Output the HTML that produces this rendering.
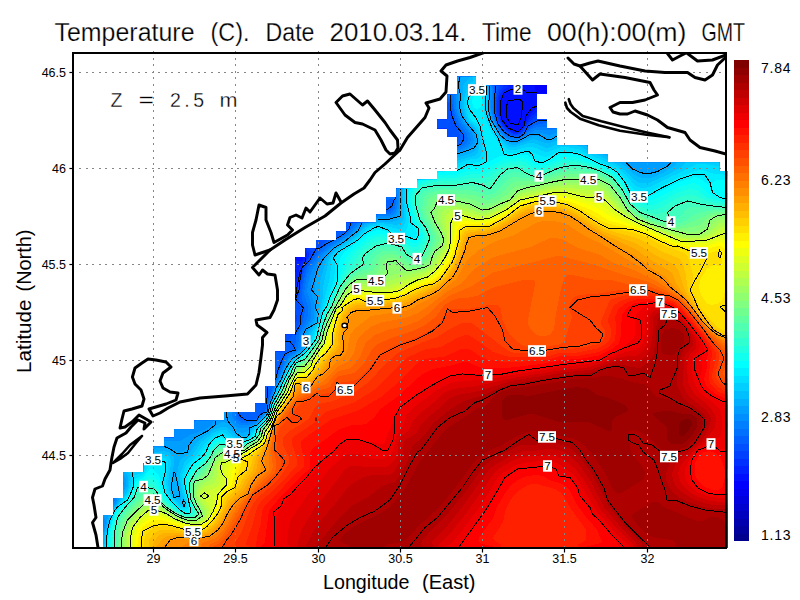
<!DOCTYPE html>
<html><head><meta charset="utf-8"><title>Temperature</title><style>html,body{margin:0;padding:0;background:#fff;width:800px;height:600px;overflow:hidden}</style></head><body>
<svg width="800" height="600" viewBox="0 0 800 600" style="position:absolute;left:0;top:0;font-family:'Liberation Sans',sans-serif">
<defs><clipPath id="m"><path d="M103,547.5 103,515.2 113.2,515.2 113.2,498 123.2,498 123.2,472.2 143.7,472.2 143.7,463.6 153.8,463.6 153.8,446.4 164.2,446.4 164.2,437.8 174.2,437.8 174.2,429.2 194.2,429.2 194.2,420.6 224.2,420.6 224.2,412 255,412 255,403.4 265.3,403.4 265.3,386.2 275.4,386.2 275.4,351.8 285.3,351.8 285.3,334.6 295,334.6 295,257.2 305,257.2 305,248.6 316,248.6 316,240 336.2,240 336.2,231.4 346.3,231.4 346.3,222.8 376.3,222.8 376.3,214.2 386.3,214.2 386.3,197 396.5,197 396.5,188.4 417,188.4 417,179.8 437,179.8 437,171.2 457,171.2 457,136.8 447,136.8 447,128.2 437,128.2 437,119.6 447,119.6 447,94.6 457,94.6 457,76.8 476,76.8 476,85.6 547,85.6 547,93.8 537,93.8 537,119.6 547,119.6 547,128.4 557,128.4 557,145.6 587.5,145.6 587.5,154.2 608,154.2 608,162.6 719.5,162.6 719.5,171.2 727.5,171.2 727.5,547.5Z"/></clipPath><clipPath id="f"><rect x="73" y="53" width="653" height="495"/></clipPath></defs>
<rect width="800" height="600" fill="#fff"/>
<g clip-path="url(#m)" shape-rendering="crispEdges">
<path d="M103,547.5 103,515.2 113.2,515.2 113.2,498 123.2,498 123.2,472.2 143.7,472.2 143.7,463.6 153.8,463.6 153.8,446.4 164.2,446.4 164.2,437.8 174.2,437.8 174.2,429.2 194.2,429.2 194.2,420.6 224.2,420.6 224.2,412 255,412 255,403.4 265.3,403.4 265.3,386.2 275.4,386.2 275.4,351.8 285.3,351.8 285.3,334.6 295,334.6 295,257.2 305,257.2 305,248.6 316,248.6 316,240 336.2,240 336.2,231.4 346.3,231.4 346.3,222.8 376.3,222.8 376.3,214.2 386.3,214.2 386.3,197 396.5,197 396.5,188.4 417,188.4 417,179.8 437,179.8 437,171.2 457,171.2 457,136.8 447,136.8 447,128.2 437,128.2 437,119.6 447,119.6 447,94.6 457,94.6 457,76.8 476,76.8 476,85.6 547,85.6 547,93.8 537,93.8 537,119.6 547,119.6 547,128.4 557,128.4 557,145.6 587.5,145.6 587.5,154.2 608,154.2 608,162.6 719.5,162.6 719.5,171.2 727.5,171.2 727.5,547.5Z" fill="#00008f"/>
<path d="M727.5 548.5l1-1 0-377-8-.5 0-7.5-1-1-110.5 0 0-7.5-.5-1-20 0 0-7.5-.5-1-30 0 0-17-10-.5 0-7.5-.5-1-9.5 0 0-23.5 10-.5 0-10-71 0 0-8-1-1-20 .5 0 17.5-9 0-1 1 0 24-9 0-1 1 0 9.5 10 .5 0 7.5 .5 1 9.5 0 0 32-19.5 0-.5 1 0 7.5-20 .5 0 8-20 .5-.5 8.5-10 .5-.5 16.5-9.5 .5-.5 8-29 0-1 1 0 7.5-10 .5 0 8.5-19.5 0-.5 1 0 7.5-10.5 0-.5 1 0 7.5-10 .5 0 77-10 .5 0 16.5-8.5 0-1 1-.5 33.5-10 .5 0 16.5-10 .5 0 8.5-30 0-1 1 0 7.5-29 0-1 1 0 7.5-19.5 0-.5 8.5-10 .5 0 8-10 .5-.5 17-9.5 0-.5 8.5-20 .5-.5 25.5-9.5 0-.5 17-9 0-1 1 0 32.5 1 1z" fill="#00009f"/>
<path d="M727.5 548.5l1-1 0-377-8-.5 0-7.5-1-1-110.5 0 0-7.5-.5-1-20 0 0-7.5-.5-1-30 0 0-17-10-.5 0-7.5-.5-1-9.5 0 0-23.5 10-.5 0-10-71 0 0-8-1-1-20 .5 0 17.5-9 0-1 1 0 24-9 0-1 1 0 9.5 10 .5 0 7.5 .5 1 9.5 0 0 32-19.5 0-.5 1 0 7.5-20 .5 0 8-20 .5-.5 8.5-10 .5-.5 16.5-9.5 .5-.5 8-29 0-1 1 0 7.5-10 .5 0 8.5-19.5 0-.5 1 0 7.5-10.5 0-.5 1 0 7.5-10 .5 0 77-10 .5 0 16.5-8.5 0-1 1-.5 33.5-10 .5 0 16.5-10 .5 0 8.5-30 0-1 1 0 7.5-29 0-1 1 0 7.5-19.5 0-.5 8.5-10 .5 0 8-10 .5-.5 17-9.5 0-.5 8.5-20 .5-.5 25.5-9.5 0-.5 17-9 0-1 1 0 32.5 1 1z" fill="#0000af"/>
<path d="M727.5 548.5l1-1 0-377-8-.5 0-7.5-1-1-110.5 0 0-7.5-.5-1-20 0 0-7.5-.5-1-30 0 0-17-10-.5 0-7.5-.5-1-9.5 0 0-23.5 10-.5 0-10-71 0 0-8-1-1-20 .5 0 17.5-9 0-1 1 0 24-9 0-1 1 0 9.5 10 .5 0 7.5 .5 1 9.5 0 0 32-19.5 0-.5 1 0 7.5-20 .5 0 8-20 .5-.5 8.5-10 .5-.5 16.5-9.5 .5-.5 8-29 0-1 1 0 7.5-10 .5 0 8.5-19.5 0-.5 1 0 7.5-10.5 0-.5 1 0 7.5-10 .5 0 77-10 .5 0 16.5-8.5 0-1 1-.5 33.5-10 .5 0 16.5-10 .5 0 8.5-30 0-1 1 0 7.5-29 0-1 1 0 7.5-19.5 0-.5 8.5-10 .5 0 8-10 .5-.5 17-9.5 0-.5 8.5-20 .5-.5 25.5-9.5 0-.5 17-9 0-1 1 0 32.5 1 1z" fill="#0000bf"/>
<path d="M727.5 548.5l1-1 0-377-8-.5 0-7.5-1-1-110.5 0 0-7.5-.5-1-20 0 0-7.5-.5-1-30 0 0-17-10-.5 0-7.5-.5-1-9.5 0 0-23.5 10-.5 0-10-71 0 0-8-1-1-20 .5 0 17.5-9 0-1 1 0 24-9 0-1 1 0 9.5 10 .5 0 7.5 .5 1 9.5 0 0 32-19.5 0-.5 1 0 7.5-20 .5 0 8-20 .5-.5 8.5-10 .5-.5 16.5-9.5 .5-.5 8-29 0-1 1 0 7.5-10 .5 0 8.5-19.5 0-.5 1 0 7.5-10.5 0-.5 1 0 7.5-10 .5 0 77-10 .5 0 16.5-8.5 0-1 1-.5 33.5-10 .5 0 16.5-10 .5 0 8.5-30 0-1 1 0 7.5-29 0-1 1 0 7.5-19.5 0-.5 8.5-10 .5 0 8-10 .5-.5 17-9.5 0-.5 8.5-20 .5-.5 25.5-9.5 0-.5 17-9 0-1 1 0 32.5 1 1z" fill="#0000cf"/>
<path d="M727.5 548.5l1-1 0-377-8-.5 0-7.5-1-1-110.5 0 0-7.5-.5-1-20 0 0-7.5-.5-1-30 0 0-17-10-.5 0-7.5-.5-1-9.5 0 0-23.5 10-.5 0-10-71 0 0-8-1-1-20 .5 0 17.5-9 0-1 1 0 24-9 0-1 1 0 9.5 10 .5 0 7.5 .5 1 9.5 0 0 32-19.5 0-.5 1 0 7.5-20 .5 0 8-20 .5-.5 8.5-10 .5-.5 16.5-9.5 .5-.5 8-29 0-1 1 0 7.5-10 .5 0 8.5-19.5 0-.5 1 0 7.5-10.5 0-.5 1 0 7.5-10 .5 0 77-10 .5 0 16.5-8.5 0-1 1-.5 33.5-10 .5 0 16.5-10 .5 0 8.5-30 0-1 1 0 7.5-29 0-1 1 0 7.5-19.5 0-.5 8.5-10 .5 0 8-10 .5-.5 17-9.5 0-.5 8.5-20 .5-.5 25.5-9.5 0-.5 17-9 0-1 1 0 32.5 1 1z" fill="#0000df"/>
<path d="M727.5 548.5l1-1 0-377-8-.5 0-7.5-1-1-110.5 0 0-7.5-.5-1-20 0 0-7.5-.5-1-30 0 0-17-10-.5 0-7.5-.5-1-9.5 0 0-23.5 10-.5 0-10-71 0 0-8-1-1-20 .5 0 17.5-9 0-1 1 0 24-9 0-1 1 0 9.5 10 .5 0 7.5 .5 1 9.5 0 0 32-19.5 0-.5 1 0 7.5-20 .5 0 8-20 .5-.5 8.5-10 .5-.5 16.5-9.5 .5-.5 8-29 0-1 1 0 7.5-10 .5 0 8.5-19.5 0-.5 1 0 7.5-10.5 0-.5 1 0 7.5-10 .5 0 77-10 .5 0 16.5-8.5 0-1 1-.5 33.5-10 .5 0 16.5-10 .5 0 8.5-30 0-1 1 0 7.5-29 0-1 1 0 7.5-19.5 0-.5 8.5-10 .5 0 8-10 .5-.5 17-9.5 0-.5 8.5-20 .5-.5 25.5-9.5 0-.5 17-9 0-1 1 0 32.5 1 1z" fill="#0000ef"/>
<path d="M727.5 548.5l1-1 0-377-8-.5 0-7.5-1-1-110.5 0 0-7.5-.5-1-20 0 0-7.5-.5-1-30 0 0-17-10-.5 0-7.5-.5-1-9.5 0 0-23.5 10-.5 0-10-71 0 0-8-1-1-20 .5 0 17.5-9 0-1 1 0 24-9 0-1 1 0 9.5 10 .5 0 7.5 .5 1 9.5 0 0 32-19.5 0-.5 1 0 7.5-20 .5 0 8-20 .5-.5 8.5-10 .5-.5 16.5-9.5 .5-.5 8-29 0-1 1 0 7.5-10 .5 0 8.5-19.5 0-.5 1 0 7.5-10.5 0-.5 1 0 7.5-10 .5 0 77-10 .5 0 16.5-8.5 0-1 1-.5 33.5-10 .5 0 16.5-10 .5 0 8.5-30 0-1 1 0 7.5-29 0-1 1 0 7.5-19.5 0-.5 8.5-10 .5 0 8-10 .5-.5 17-9.5 0-.5 8.5-20 .5-.5 25.5-9.5 0-.5 17-9 0-1 1 0 32.5 1 1z" fill="#0000ff"/>
<path d="M548 93l-9.5 0-2.5-2-1-2 0-4.5-58 0 0-8-.5-1-20.5 .5 0 17.5-9 0-1 1 0 24-9 0-1 1 0 9.5 10 .5 0 7.5 .5 1 9.5 0 0 32-19.5 0-.5 1 0 7.5-20 .5 0 8-20 .5-.5 8.5-10 .5-.5 16.5-9.5 .5-.5 8-29 0-1 1 0 7.5-10 .5 0 8.5-19.5 0-.5 1 0 7.5-10.5 0-.5 1 0 7.5-10 .5 0 77-10 .5 0 16.5-8.5 0-1 1-.5 33.5-10 .5 0 16.5-10 .5 0 8.5-30 0-1 1 0 7.5-29 0-1 1 0 7.5-19.5 0-.5 8.5-10 .5 0 8-10 .5-.5 17-9.5 0-.5 8.5-20 .5-.5 25.5-9.5 0-.5 17-9 0-1 1 0 33.5 626.5 0 0-378-1-.5-7 0 0-7.5-1-1-110.5 0 0-7.5-.5-1-20 0 0-7.5-.5-1-30 0 0-17-10-.5 0-7.5-.5-1-9.5 0 0-23.5 9.5 0z" fill="#0010ff"/>
<path d="M304 255l-1 4-2 2-2 .5-5-2 0 7 1.5 2.5 .5 2-2 6 0 56.5-10 .5 0 16.5-8.5 0-1 1-.5 33.5-10 .5 0 16.5-10 .5 0 8.5-30 0-1 1 0 7.5-29 0-1 1 0 7.5-19.5 0-.5 8.5-10 .5 0 8-10 .5-.5 17-9.5 0-.5 8.5-20 .5-.5 25.5-9.5 0-.5 17-9 0-1 1 .5 33.5 626-.5 0-377-1-1-7 0-.5-8.5-111 0 0-7.5-.5-1-20 0 0-7.5-.5-1-30 0 0-16.5-10-1-.5-8.5-9.5 0 0-12.5-7 7-6.5 12-3.5 4.5-4 2-4-.5-6-3.5-5-6.5-2-8-.5-8 1.5-7.5 2.5-4.5 3.5-2.5 9-3.5 1-2-40-.5 0-8-.5-1-19.5 0-1 1 0 17-9 0-1 1 0 24-9 0-1 1 0 9.5 10 .5 0 7.5 .5 1 9.5 0 0 32-19.5 0-.5 1 0 7.5-20 .5 0 8-20 .5-.5 8.5-10 .5-.5 16.5-9.5 .5-.5 8-29 0-1 1 0 7.5-10 .5 0 8.5-19.5 0-.5 8.5-10.5 0z" fill="#0020ff"/>
<path d="M304 249l2.5 4 0 4-7 10-4 22-1.5 5.5 0 39-10 .5 0 16.5-8.5 0-1 1-.5 33.5-10 .5 0 16.5-10 .5 0 8.5-30 0-1 1 0 7.5-29 0-1 1 0 7.5-19.5 0-.5 8.5-10 .5 0 8-10 .5-.5 17-9.5 0-.5 8.5-20 .5-.5 25.5-9.5 0-.5 17-9 0-1 1 .5 33.5 626-.5 0-377-1-1-7 0-.5-8.5-111 0 0-7.5-.5-1-20 0 0-7.5-.5-1-30 0 0-16.5-10-1 0-8-10-.5 0-7.5-7 5.5-10 14.5-4 1.5-4 0-6-3.5-4-4.5-3-5.5-1.5-8 0-10 1.5-6 3-4.5 5-3.5 .5-2.5-31.5 0 0-8-.5-1-19.5 0-1 1 0 17-9 0-1 1 0 24-9 0-1 1 0 9.5 10 .5 0 7.5 .5 1 9.5 0 0 32-19.5 0-.5 1 0 7.5-20 .5 0 8-20 .5-.5 8.5-10 .5-.5 16.5-9.5 .5-.5 8-29 0-1 1 0 7.5-10 .5 0 8.5-19.5 0-.5 1 0 7.5-10 0z" fill="#0030ff"/>
<path d="M305.5 247.5l3.5 5.5-.5 4-6.5 10-5 24.5-3 6.5 0 35.5-10 .5 0 16.5-8.5 0-1 1-.5 33.5-10 .5 0 16.5-10 .5 0 8.5-30 0-1 1 0 7.5-29 0-1 1 0 7.5-19.5 0-.5 8.5-10 .5 0 8-10 .5-.5 17-9.5 0-.5 8.5-20 .5-.5 25.5-9.5 0-.5 17-9 0-1 1 .5 33.5 626-.5 0-377-1-1-7 0-.5-8.5-111 0 0-7.5-.5-1-20 0 0-7.5-.5-1-30 0 0-17-10-.5 0-8-10-.5 0-4-7 5.5-10 12.5-4 1.5-4-.5-6-3-4-4-3-5.5-2.5-8-.5-10 1.5-8 1.5-4 4.5-6.5-27.5 0 0-8-.5-1-19.5 0-1 1 0 17-9 0-1 1 0 24-9 0-1 1 0 9.5 10 .5 0 7.5 .5 1 9.5 0 0 32-19.5 0-.5 1 0 7.5-20 .5 0 8-20 .5-.5 8.5-10 .5-.5 16.5-9.5 .5-.5 8-29 0-1 1 0 7.5-10 .5 0 8.5-19.5 0-.5 1 0 7.5z" fill="#0040ff"/>
<path d="M308 247.5l4 3.5-1 4-8 14-5 26-4 8 0 2.5 3 11.5-.5 4-2.5 4 0 8.5-10 .5 0 16.5-8.5 0-1 1-.5 33.5-10 .5 0 16.5-10 .5 0 8.5-30 0-1 1 0 7.5-29 0-1 1 0 7.5-19.5 0-.5 8.5-10 .5 0 8-10 .5-.5 17-9.5 0-.5 8.5-20 .5-.5 25.5-9.5 0-.5 17-9 0-1 1 .5 33.5 626-.5 0-377-1-1-7 0-.5-8.5-111 0 0-7.5-.5-1-20 0 0-7.5-.5-1-30 0 0-16.5-1-1-9 0 0-7.5-1-1-10 0-6 4-10 11-4 1.5-4 0-6-3-4-4-4-6-2.5-7-.5-8 .5-10 2-8 2.5-4.5-24 0 0-8-.5-1-19.5 0-1 1 0 17-9 0-1 1 0 24-9 0-1 1 0 9.5 10 .5 0 7.5 .5 1 9.5 0 0 32-19.5 0-.5 1 0 7.5-20 .5 0 8-20 .5-.5 8.5-10 .5-.5 16.5-9.5 .5-.5 8-29 0-1 1 0 7.5-10 .5 0 8.5-19.5 0-.5 1 0 7.5z" fill="#0050ff"/>
<path d="M335.5 231l-.5 8-6.5 0-7.5 6-6 7-10 17-2 6-4.5 26 2.5 10-1 10-6 12.5-5 6.5-2 1.5-3 .5 0 8.5-8.5 0-1 1-.5 33.5-10 .5 0 16.5-10 .5 0 8.5-30 0-1 1 0 7.5-29 0-1 1 0 7.5-19.5 0-.5 8.5-10 .5 0 8-10 .5-.5 17-9.5 0-.5 8.5-20 .5-.5 25.5-9.5 0-.5 17-9 0-1 1 0 33.5 626.5 0 0-377.5-1-1-7 0 0-8.5-111.5 0 0-7.5-.5-1-20 0 0-7.5-.5-1-30 0 0-16.5-1-1-9 0 0-7.5-1-1-10 3-4 2-12 11.5-4 1.5-6-1-4-2-4-3.5-4.5-7-2.5-6-1.5-14 3-18.5-20.5 0 0-8-.5-1-19.5 0-1 1 0 17-9 0-1 1 0 8 3-.5 .5 1 5 18 5.5 14-1 5.5-3 2 0 27.5-19.5 0-.5 1 0 7.5-20 .5 0 8-20 .5-.5 8.5-10 .5-.5 16.5-9.5 .5-.5 8-29 0-1 1 0 7.5-9 0z" fill="#0060ff"/>
<path d="M446 99l3-1.5 2.5 1.5 4 20 9.5 18-1 4-1.5 2-3.5 2.5-3 .5 0 24-19.5 0-.5 1 0 7.5-20 .5 0 8-20 .5-.5 8.5-9.5 0-1 1 0 3.5 6-1.5 2 .5 1 1.5-1 6-2.5 4-1.5 1-4 .5 0 .5-9.5 0-.5 8.5-20.5 0-10 11.5-17.5 11.5-8 6.5-11 16-3 7-3.5 21 .5 4 2.5 8 0 6-1.5 8-6.5 14-1.5 12-2 3-6 4-3.5 5-10.5 28-8 23.5-8 7.5-8 3-4 0-5-2-3-4 .5-4-14 0-.5 8.5-29.5 0-.5 1 0 7.5-19.5 0-.5 1 0 7.5-10 .5 0 8-10 .5-.5 17-9.5 0-.5 8.5-20 .5-.5 25.5-9.5 0-.5 17-9 0-1 1 0 33.5 626.5 0 0-378-8-.5 0-7.5-1-1-110.5 0 0-7.5-.5-1-20 0 0-7.5-.5-1-30 0 0-16.5-1-1-9 0 0-4.5-13 2.5-4 2.5-8 7.5-4 2-4 .5-4-.5-4-2-4.5-4-5-8-2.5-6-1.5-12 1-20.5-17.5 0 0-8-.5-1-20.5 .5 0 17.5-9.5 0z" fill="#0070ff"/>
<path d="M452.5 93.5l1.5 3.5 .5 12 2.5 8 2.5 6 7 10 1.5 6-1 3.5-2.5 2.5-3.5 2-5 1 0 22-19.5 0-.5 1 0 7.5-20 .5 0 8-20 .5-.5 8.5-2.5 0 2 1 1 2 0 4-1.5 6-3 4-2.5 1.5-8-.5-6 1 0 6.5-16.5 0-13 13.5-16.5 11-10 8.5-9.5 14.5-2.5 6.5-3 17.5 4 14 0 8-1 4-7.5 14-1.5 14-2.5 4-6.5 4.5-4 5.5-11 26-7 21.5-2 3.5-10 9-10 2-4-.5-4.5-3.5-2-4 0-4-10.5 0-1 1 0 7.5-29 0-1 1 0 7.5-19.5 .5-.5 8-10 .5 0 8-10 .5-.5 17-9.5 0-.5 8.5-19.5 0-1 .5 0 25.5-8.5 0-1.5 4.5 0 12.5-9 0-1 1 0 7.5 1 2.5-1 4.5 0 19 626.5 0 0-378-8-.5 0-7.5-1-1-110.5 0 0-7.5-.5-1-20 0 0-7.5-.5-1-30 0 0-16-1-1.5-20 0-6 2.5-10 8-4 1-6-.5-4-1.5-4-3.5-4.5-6-4-8-2-10 .5-18-1-6.5-15 0 0-8-1-1-19 0-1 1 0 17z" fill="#0080ff"/>
<path d="M456 76.5l0 30.5 2 8 4 8 7.5 10 1.5 6-1 4-4 4-5 2.5-5 1 0 19.5-19.5 0-.5 1 0 7.5-19 0-1 1 0 7.5-18 0-2.5 4 2.5 8-.5 6-1.5 6-3 3.5-4 1.5-8 0-6 1 0 4.5-14 .5-12.5 13-18 12-9 8-9 14-3.5 10.5-2 11.5 3.5 12 1 12-1 4-9 14-1 14-2.5 4-9 6.5-3.5 5.5-10.5 24-7.5 22-2.5 4.5-10 9-6 2.5-6 .5-4-1-4.5-3.5-3-6 .5-4-8 0-1 1 0 7.5-26 0-4 4 0 4.5-6.5 0-5.5 1.5-3-1.5-4.5 .5-.5 8-10 .5 0 8-10 .5-.5 17-9.5 0-.5 8.5-19.5 0-1 .5 0 25.5-5.5 0-4.5 8 0 9-9 0-1 1 0 4 2 2 .5 2-2.5 10 0 15.5 626.5 0 0-378-8-.5 0-7.5-1-1-110.5 0 0-7.5-.5-1-20 0 0-7.5-.5-1-30 0 0-16.5-9 2.5-10-1-4 .5-14 8.5-4 1.5-6-.5-4-1.5-5.5-5-4.5-6.5-3.5-7.5-2.5-10 1-18-1.5-6.5-13.5 0 0-8-.5-1-19.5 0z" fill="#008fff"/>
<path d="M456 86l2.5 9-.5 12 2 8 4 8 8 10 2 6-1 4-3 4-7 3.5-7 2 0 17.5-19.5 0-.5 1 0 7.5-19 0-1 1 0 7.5-16 0-1.5 4 1 8-.5 8-1 4-2 4-5 2.5-16 1 0 3-10 0-2 1-3 2.5-9.5 10-17.5 12-8.5 8-8.5 14-5 16-.5 6 3 10 .5 14-.5 4-9 12-1 4-.5 10-1.5 4-12 10-4 6-10 22-8.5 24-2 3.5-10 9.5-8 3.5-6 1-4-1.5-6.5-6-2-4-.5-6-4 0-1 1 0 7.5-8.5 0-3 5.5-6.5 4.5-14 5-10 6-6 1-12-.5 0 4-10 .5-.5 17-9.5 0-.5 8.5-19.5 0-1 .5 0 7 2 4.5-2 6.5 0 7.5-4 0-2.5 6-3.5 4 0 7-9 0-1 1 1 2 2 1 1 3-1 6-3 10 0 11.5 626.5 0 0-378-8-.5 0-7.5-1-1-110.5 0 0-7.5-.5-1-20 0 0-7.5-.5-1-30 0 0-12-9 2.5-10-2.5-4 .5-16 7.5-8 .5-6-3-4-4-4.5-7-4-8-2.5-12 .5-18-2-4.5-11.5 0 0-8-.5-1-19.5 0-1 1.5z" fill="#009fff"/>
<path d="M463 75.5l-2 2-1.5 3.5 1 14-.5 12 4.5 14 8.5 10 2 4 1 6-2 6-5.5 4-12.5 4 0 15-19.5 0-.5 1 0 7.5-19.5 0-.5 1 0 7.5-14.5 0-1.5 4 1 10-.5 10-1.5 4-2 2.5-6 2-14 .5-2 0 0 1.5-5 0-5 2-4 3-8 8.5-20 14-7.5 8-6.5 12-4 14-.5 6 2 10-.5 16-1 5.5-8.5 12.5-1.5 10.5-2 5.5-4 4-8 6.5-5 7.5-10 22-9 23.5-8 9.5-12 9.5-4 1.5-6-1.5-10-8.5-4-1-2 .5-26 16-8 9.5-3.5 3-4.5 1-12-4.5-8 0-6.5 2.5 0 12.5-10 .5 0 8-20 .5-.5 2 3 3 1 2.5-.5 8-3.5 6 0 4-2 0-3 6-5 6 0 5-3 0-1 1-1 8-4 14 0 6-1 2.5 0 3 626.5 0 0-378-8-.5 0-7.5-1-1-50.5 0-1.5 3.5-8.5 6-8 2.5-6 .5-8-3-13-9.5-15 0 0-7-3-1.5-17.5 0 0-7.5-.5-1-30 0 0-8-11 2.5-10-3-4 0-14 6.5-6 .5-4-1-4-2.5-4.5-4.5-5-8-4-8-2.5-10 .5-18-1-4-2-2.5-9.5 0 0-8-.5-1z" fill="#00afff"/>
<path d="M470 75.5l-1 3.5-4 3-1.5 3-2 20 4.5 16 8 8 3 6 1 8-1 4.5-2 3.5-3.5 2-15.5 5 0 12-19.5 0-.5 1 0 7.5-19.5 0-.5 1 0 7.5-12.5 0-1.5 4 0 22-1 4-2 3-6 1.5-16 0-11.5 3.5-10.5 10.5-19.5 13.5-6 6-3.5 6-6.5 22 .5 14-3.5 24-7.5 12-2 10-3 6-3.5 4-9.5 8-5 8-9.5 20-9.5 24.5-6 7.5-9 8-3 4.5-4 2.5-4 .5-4-1-10-8-6-.5-6 2-17 12-8.5 12-8.5 6-2 4-2 12 4.5 24-.5 2-6-4.5-4-7.5 0-8 3.5-20-.5-4-5-4.5-6-2-10.5 2.5 0 9.5-9.5 0-.5 8.5-19.5 0 4 4 1 2-.5 10-9.5 16-6 7.5 0 3.5-1.5 0-.5 1-5.5 20-.5 8-2 4 0 1.5 626.5 0 0-378-8-.5 0-7.5-1-1-42.5 0-1.5 3.5-12.5 8-12 5-8 .5-8-3.5-10-9-6-3.5-2-1-8 0 0-4-9.5-4.5-11 0 0-5.5-6-3-24.5 0 0-4-11 3-14-4.5-16 5.5-4 .5-4-1-4-2.5-6-6.5-8.5-16-2.5-10 .5-18-1.5-4-2.5-2.5-7.5 0-.5-9z" fill="#00bfff"/>
<path d="M472 75.5l2 5.5-5 2.5-2 3-2.5 10.5-1 8 4 16 7.5 6.5 4 7.5 1 8-2 10-3 2.5-19 5.5 0 9-19.5 0-.5 8.5-19.5 .5-.5 8-11 0-1 2-1 4 1 22-.5 4-2.5 4-4 2-18-2-10 2.5-4 2-10 10-18 12-5.5 5.5-3 6-5 24-.5 12-6 26-5.5 10-6 16-3.5 4-9 7-5 7-10.5 22-10.5 25.5-13 14.5-4.5 6-2.5 2-6 1.5-4-.5-4-2-6-5.5-6-1-8 3.5-12.5 10-8 12-7.5 6-4.5 12-.5 8 2.5 12 2.5 8-.5 4-1.5 1-2-1-6-5.5-4-4.5-1.5-4-1.5-8 3.5-22-2-4-2.5-2-6-1.5-8.5 2 0 7-7 0-3 6.5 0 2-3.5 1-2-1-11 0 4 4-1 12-2.5 6-14.5 19.5-6.5 22.5-.5 8.5-3 5 626.5 0 0-378-8-.5 0-7.5-1-1-33.5 0-2 3.5-2.5 2-14.5 8-18 8-6 .5-4-1-4-2.5-16-14.5-8-4-2 0 0-1-15.5-7.5-5 0 0-2.5-11.5-5-6.5-1-12.5-.5-9 3.5-4 0-10-4-4-1-16 4.5-6-.5-4-3-6-6.5-9-16-3-12 .5-16-1-4-5-4.5-4.5 0 0-8.5z" fill="#00cfff"/>
<path d="M471 87l-4.5 10-1 8 3.5 15.5 8.5 6.5 3 8 1.5 6 0 10-1 4-1.5 2-2.5 1.5-10 1.5-11 4.5 0 5.5-19.5 0-.5 8.5-19.5 .5-.5 8-9.5 0-1.5 4 1 28-1 4.5-2.5 3.5-3.5 2-18-4-10 1.5-4.5 2.5-9.5 9-21.5 15-4 6-1.5 18-11 43.5-8.5 20.5-5.5 10-12 10-3 4-15 31-6.5 17-3.5 5.5-9.5 10.5-4 6-6 4-6.5 1.5-4-1-10-6.5-4-1-8 3.5-8 7.5-8.5 12-9.5 9-5 11 .5 10 4 18-.5 4-1 1-4-1-8-7-5.5-9-1.5-8 2.5-20-1.5-4-6-2.5-8.5 1.5 0 4.5-4.5 0-4.5 8.5-2.5 3-8 1-2.5 12-2.5 6-13 16.5-3 5.5-5.5 20-1 10-2 3.5 625 0 0-376.5-2-2-6 0 0-3.5-17.5-2.5-6 0-46 22.5-6 1.5-4 0-6-2.5-13-14.5-5-4-38-17.5-10-2-8-.5-12 4.5-4 .5-12-5-4-.5-14 3.5-6-.5-4-2.5-7.5-10-9-16-3-10 .5-16-1-6-2.5-2-5.5-2-4 .5z" fill="#00dfff"/>
<path d="M474.5 89l-5.5 8.5-1 5.5 2 8 0 8 2 2 7 3.5 3.5 6.5 2 8 1 12 0 4-2 4-4.5 3-12 1.5-11 4.5 0 2-20 .5 0 8-17 0-3 2.5 0 6-7.5 0-2 4 0 10 2.5 20-1.5 6-2.5 4.5-2 1-4 1-16-6-4-.5-6 1-6 3.5-10 8.5-18 13-4 6 0 12-1.5 10-20.5 58-7 12-11.5 10-5 6-15.5 32-6 16-11.5 14-3.5 6-6 4.5-10 2.5-4-1-10-6-4 0-6 3-5 5-8 12-10.5 10-5 10-1 4 0 6 4.5 20-.5 4-2.5 1-4-1-4.5-4-6.5-6-3.5-6-2.5-10 1-16-.5-4-1.5-2-4-1-5.5 1-1 1.5-1.5 0-8 12.5-8.5 4-6 16-14.5 18-6 20-1 10-1.5 5.5 623 0 0-372-7.5-2.5-8-.5-10-3.5-6 .5-18 6.5-30 15-8 1-4-1-4-3-11-14-6.5-6-36.5-16.5-10-2-6 0-4 .5-10 5-4 1-4-1-12-5.5-16 2.5-6-.5-6-5.5-9-14-6-12-2.5-10 1-14-1.5-7-2-1.5-4-.5z" fill="#00efff"/>
<path d="M475 95l-2.5 4-.5 4 1.5 4 3.5 2 2-1 2-2 1.5-7-1.5-4.5-2-1zM523 154.5l-12 1.5-10-.5-22 11-10 .5-12 4-12 .5-9 1.5 0 5.5-14 0-6 4.5 0 4-5.5 0-2.5 6 0 10 4 20 5 10-1 4-3 1-6-1-8 0-14-6-8-1-8 3-25.5 20-3.5 6-4 22-12.5 30-10 30-8 12-10.5 8.5-4 5-17 34.5-5.5 14-11 14-4.5 7.5-6 4-8 2.5-6 0-12-5.5-4 .5-6 5-8 12-12 12-5.5 10-.5 4 0 6 4.5 20-.5 2.5-2 2-4-.5-4-2-9-8-5-8-6-17.5-6-6-2-.5-2 1-6 7.5-7 3.5-7 15.5-14 16.5-6 20-2 15.5 621.5 0 0-350.5-2-1-1.5-2 1.5-2 2-1 0-13-5.5 1.5-6-.5-2.5 1-3.5 3.5-2 .5-10-7-4-1-4 1-12 4-28 14-4 1-6 0-6-2-4-3.5-8.5-12.5-7.5-8-6-3.5-28-11.5-10-2-8-.5-6 2-10 5-6 1.5-4.5-1-9.5-6z" fill="#00ffff"/>
<path d="M561 157.5l-14 6.5-6 1.5-6-.5-8-5.5-4-1.5-20 1.5-22 11-12 0-12 4-12 0-9 1.5 0 2.5-9.5 0-10.5 6.5 0 2-2.5 0-4 6 0 8 4.5 20 5 8 1.5 4 0 4-1.5 3.5-2 2-4 .5-6-2.5-12-1.5-10-5-8-.5-8 3.5-20 16-4 6-6 20-15 34-9 27-8.5 13-11.5 9.5-3.5 4.5-17 34-5.5 14-15.5 22-6.5 4.5-8 3-6 0-12-5-4 1-5.5 4.5-7.5 12-12 12-5.5 10 0 10 4.5 20-2 3.5-4 .5-4-1.5-11-8.5-6-8-6-14-5-5.5-2-1-2 0-4.5 4.5-7.5 4-7 14-12.5 14-2.5 4.5-4.5 15.5-2 17.5 620 0 0-347-15.5-5-4-2.5-10-9-6-2-12 3-28 14-6 1-6-.5-4-1.5-6-4.5-12.5-17.5-7.5-6.5-20-8.5-12-4-10-1.5z" fill="#10ffef"/>
<path d="M728.5 203.5l-18-4.5-4.5-2-9-7-6-1-6 1-6 2-24 12.5-6 1-6-1-6-2.5-6-5-13-18-6.5-6-20.5-9-18-4.5-12 1-16 7-6 1-6-1-8-5-4-1.5-14 1.5-8 2.5-10 6.5-6 2.5-14 .5-14 3.5-16 0-10 2.5-6 2-6.5 4.5-3.5 4-2 6 1.5 10 3 12 5.5 9 2 5 0 5-2 5-4 3.5-4 .5-8-4-10-2-10-4-6-.5-8 3-16.5 13.5-5.5 8-24 52-9.5 28-8.5 12.5-11.5 9.5-3.5 4-17 34-6 14.5-9.5 13.5-4.5 7.5-6 4.5-12 5-6-.5-8-4-6 1-5 4.5-7 11-9.5 9-4.5 6-3 6-1 6 1.5 10 3.5 14-1 4-4 1-4-.5-10-6.5-8.5-8-9.5-16.5-4-3.5-2 0-10 5-2 1.5-7 13.5-13 15-2 5-3 10-2 19.5 618 0 .5-1z" fill="#20ffdf"/>
<path d="M728.5 205.5l-21.5-4.5-12-5.5-6-1-6 1.5-8 3-12 7.5-6 2.5-6 1-6-1.5-6-2.5-6-4-15-21-7-6.5-20-8.5-16-4-14 1.5-16 6.5-6 1.5-8-1-8-5-4-1-10 .5-8 3-10 7.5-6 2.5-4 .5-10-.5-16 3-16 0-10 2-6 2-7 6-2.5 4 0 4 3 18 7 12 2 6-.5 6-4 7-4 2.5-4 .5-10-6-16-4.5-6-.5-8.5 3-12.5 10-13 19-9.5 17-12 26-9 26-9.5 14-10.5 8-3.5 4-18 35-6 14.5-9 12.5-4.5 8-8.5 6-10 4-6 0-8-3.5-4 0-2 1-4 4-8 12-9 8.5-4.5 6-2.5 6-1 6 1.5 10 4 12-.5 4.5-3 1.5-4.5 0-9-4-12-10-7.5-12-6-5.5-4 0-6 2-4 3.5-5.5 10-10.5 12-4 5.5-4 14.5-1.5 17.5 616.5 0 .5-1z" fill="#30ffcf"/>
<path d="M728.5 207l-23.5-3-16-4-9.5 3-16.5 10-6 1-8-1-8-3-8-5.5-15.5-21.5-6.5-6.5-8-4.5-10-3.5-18-4-14 2-16 6-8 2-7.5-1.5-10.5-5-8 0-7.5 3-10.5 9-6 2.5-6 .5-10-1-18 2.5-14-.5-10 2-6 2-6 6-1.5 7 3.5 16 7 12 2 6-.5 6-4.5 9-4 3.5-6 1.5-4-1.5-8-6.5-16-4-8.5 2-9 6-5 6-5 8-8.5 8.5-6 8.5-17 33-9 26.5-10 14.5-10 7.5-4 4.5-18 35-6 14.5-8.5 11.5-4 8-3.5 3.5-8 4.5-8 3-6 .5-8-3.5-4 .5-2 1-12 16.5-8 7.5-4 5-3 5.5-1 6 1.5 10 4.5 14 0 2-1.5 2-4.5 1-4 0-10-5-10-8-9-12-5-4-4-.5-6 1.5-3 3-6 10-9.5 10-4 6-3.5 12-1.5 19.5 614.5 0 .5-1z" fill="#40ffbf"/>
<path d="M728.5 208.5l-37.5-2-5 2.5-6 8-5 3.5-6 .5-9-2-17-5.5-8-5-6-6-13.5-19.5-6.5-6-14-6-18-3.5-14 1.5-18 6-8 2-6-.5-14-4.5-6 .5-6 3-12 12.5-4 2-14-3.5-6-.5-16 1.5-16 0-12 3.5-3 2-2.5 4-.5 10 2.5 10 8 16 1 6-3 8-4.5 7.5-4 3.5-6 .5-4.5-1.5-9.5-8-10-2.5-8 1-8 4.5-2.5 3-5.5 9.5-14 10-8 9.5-16 31-10 28-10 14-10 7.5-4 4.5-18 35-6 14.5-7.5 10.5-4.5 8.5-4 3.5-8 5-8 3-6 .5-8-3-4 1-4 3-8 12-14 15.5-2.5 5-.5 6 2 10 4 12-.5 4-2.5 1.5-4 .5-8.5-2-15-10-12.5-14-4-1-6 .5-4 3-5 7.5-11 12-3.5 6-3.5 12-1 17.5 613 0 .5-1z" fill="#50ffaf"/>
<path d="M728.5 210.5l-15.5-.5-16 3.5-12.5 7.5-7.5 3-6 0-8-1.5-20-7-8-5-6-5.5-14-20.5-6-5.5-14-6-18-2.5-14 1-26 7.5-24-2-6 3-12 12.5-6 2.5-4-.5-10-3.5-6-1-30 .5-10 2.5-3 2-2.5 4-1.5 10 2 8 7.5 14 2 8-1.5 4-7.5 14-5.5 4-6 1-6-2.5-10-8-6-1-8 .5-7 4-7 12.5-12 5.5-6 4-8.5 10-13.5 26-11 30-11 15.5-10 7-4 5-18 35-6 13.5-7 10-5 9.5-6 4.5-12 6.5-8 1-8-2-4 1-4 3.5-10 14.5-12 13-1.5 4.5 0 8 1.5 7 4.5 11-.5 4-2.5 2-3.5 1-6-.5-4-1.5-14.5-9-13.5-13-4-1.5-6 1.5-16 17-5.5 8-3.5 12-1.5 17.5 611.5 0 .5-1z" fill="#60ff9f"/>
<path d="M728.5 212l-11.5 0-6 1-14 7-18 6.5-6 0-8-2-22-7-7.5-4.5-6.5-6-12-17.5-8-8.5-12-5-18-2.5-16 1-26 6.5-22 .5-4 2-12 11.5-10 4.5-4 0-10-4-8-1-24-1-10 2-3 1.5-2.5 4-2 10 1.5 6 8 16 1.5 6-1.5 4-9 16-5.5 4-5.5 1.5-4-.5-6-2.5-8-6.5-6-1-6 .5-4 2-2 2-4 8.5-3 4-17 5.5-8 7-6 8.5-12 23-10 28-12 17-10 6.5-4 5-17.5 33.5-6 14-6.5 10-5.5 10-12.5 8.5-6 2.5-6 1.5-10-1.5-4 1.5-4 3.5-10 15.5-11 10.5-1.5 4 0 8 2 8 4.5 10-.5 4-1.5 2-4 1.5-4 0-8-1.5-13-8-15-12.5-4-1-4 1-4 3-8 8-9.5 11.5-4 12-1.5 17.5 610 0 .5-1z" fill="#70ff8f"/>
<path d="M728.5 214l-9.5 0-6 1-6 3.5-6 6-4 1.5-18 3-12-2-18.5-6-12.5-6-9-8-12-17.5-8-7.5-8-3.5-16-2-20 .5-24 6-22 3-4 2-7 7-5 3.5-8 4-6 1.5-6-1-10-4-12-1.5-16-.5-8 2-4 5-2 9 2 6 7.5 16 .5 6-11.5 20-6.5 4.5-10 1.5-6-2-10-7-8 .5-4 2.5-5 10-3 3.5-18 3.5-4 2-6 5.5-5.5 7.5-12 22-10 28-12.5 18-10 6.5-4 5.5-17 32-6 14-6.5 10-5.5 10-4.5 4-12.5 7-8 2.5-10-.5-4 1.5-4 4-9.5 15.5-10.5 9.5-1.5 4.5 0 6 1.5 7.5 5 10.5 0 4-1 2-6 2.5-10-1-10.5-5.5-19.5-14-6 0-4 2-8 7.5-10 12-4 12.5-1 15.5 608 0 .5-1z" fill="#80ff80"/>
<path d="M728.5 216.5l-9.5 0-6 2-3 2.5-5 6.5-6 3.5-8 1-18-2-22-6.5-14-6.5-10-8-12-16.5-7-7.5-9-4-14-1.5-22 0-40 8.5-6 2-8 7.5-6 3.5-16 6.5-6 0-12-4.5-12-2.5-12 0-6 1.5-4 4-2 7 1.5 8 6.5 14 .5 6-1.5 4-5 6.5-6 11-6 4.5-12 2.5-6-.5-10-4.5-4-.5-2 1-5.5 8-4.5 4-6 2-16 1-4 2-6 5.5-4 5.5-12.5 22-10 28-13.5 19.5-10 6.5-4 5-17.5 33-5 12-11.5 20-4.5 4-13.5 8-8 2.5-10 0-4 2-4 4.5-8 15-10 8-2 4-.5 8 2 6 5 10 0 4-1 2-5.5 3-10-.5-10.5-4.5-19.5-13.5-4-1-4 1-10 8-10 11.5-4.5 12-1 15.5 606.5 0 .5-1z" fill="#8fff70"/>
<path d="M728.5 220l-5.5-1-6 1.5-3.5 2.5-6.5 7.5-6 3-10 1-16-2.5-23-7-15-6.5-12-9.5-16-20-6-4-8-2-32-.5-36 7-8 3-14.5 10.5-17.5 7.5-8-.5-12-4.5-10-1.5-8-.5-6 1.5-4.5 4-1.5 6 1 6 5.5 14 0 8-12.5 21-3.5 3-4.5 2.5-12 2.5-16 2-16 7.5-22 .5-4 2-6 5.5-15 23.5-12 32-13 19-10 6-4 5.5-17 31.5-5 12-11 20-5 4.5-12 7-10 4-10 1-4 2-4 5.5-6 14-9 6-3 3.5-1 8.5 1 4.5 6 11.5 0 4-1 2-3 2.5-4 1.5-10-.5-10-4.5-20-12.5-4-.5-4 1-11 9-8 10-4 12-.5 13.5 604.5 0 .5-1z" fill="#9fff60"/>
<path d="M728.5 222.5l-5.5 0-4 1-10 9-8 3.5-10 .5-12-1.5-28-9-15.5-7-10.5-8-14-16-8-6.5-6-2-28-1.5-16 1.5-30 6.5-4 2-14 9.5-18 8-8 0-12-4-8-1.5-8 .5-6 1.5-3 4-1 4 1 6 3.5 12 0 8-2.5 6-12 18-8 4.5-26 6.5-16 6-6 1-18-1-6 3.5-5.5 5.5-13.5 22-11 30-14 20.5-10 5.5-4 5.5-32.5 62.5-3.5 4-14 8.5-10 4-10 1.5-3 2-4 6-4 14-9 5-4 4-2 5 .5 4 7.5 14 0 4-2 3-4 3-4 1-10-1-10-4-18-11-4-1-4 .5-4 2-6 5-9 10.5-4 12-1 13.5 603 0 .5-1z" fill="#afff50"/>
<path d="M728.5 225l-7.5 2-10 7-8 3.5-10 1-12-1-28-10-18-7.5-10.5-7-15.5-16-8-6-36-3.5-14 1.5-28 6.5-4 1.5-14 9.5-12 6-6 2-8 .5-12-3.5-8-1.5-6 .5-4 1.5-3 3-1 4 2.5 18-1 8-1.5 4.5-10 15.5-4 4.5-6 3.5-36 12.5-12 2-20-1.5-4 2-6 5-14 21.5-11 30.5-15 22-10 5.5-4 5-32 62-4 4-12 7.5-24 9.5-2 2.5-1.5 4-1 10-1.5 5-2 2-8 2.5-4.5 4.5-1.5 4 .5 2 6.5 10 1.5 4-1 4-2.5 4-7 3.5-10 0-12-4.5-18-10-4-1-4 .5-4 2-6 5.5-8 10-3.5 10-1 13.5 601.5 0 .5-1z" fill="#bfff40"/>
<path d="M728.5 228l-18.5 9-7 2-12 1-12-1.5-28-10.5-18-8-11-7-15-14-6-4-4-1-12-.5-20-3.5-16 1.5-26 5.5-20 12.5-16 7-10 .5-16-3.5-8 1.5-3 2-1.5 4 .5 18-2 10-9.5 16-6.5 7-6 3.5-34 13-14 1.5-20-2-4 2-6 5-12.5 18-5.5 13.5-6 18.5-14.5 22-3.5 3-8 3.5-4 5-32 62-4 4-12 7.5-22.5 11-2.5 4 0 12-1.5 6-3.5 3-9 3-3 2-.5 4 6 8 1.5 4-1.5 6-3 4-6.5 4.5-10 0-12-3.5-20-10-4-1-4 1-8 5.5-8 9.5-3.5 10-1 13.5 599.5 0 .5-1z" fill="#cfff30"/>
<path d="M728.5 234.5l-7.5 .5-12 5-6 1.5-12 0-12-1.5-16-5.5-31.5-13.5-13.5-8-13-11-4.5-3-15.5-2-22-4.5-16 1-24 5.5-4 1.5-16 10.5-16 7.5-10 .5-14-3-4 .5-4 1.5-3 3-1.5 4 .5 14-3 12-9.5 16-7.5 7.5-36 15.5-8 1.5-10 .5-20-2-6 3-4 4-12 17-6 15-5 16-15 22.5-4 3.5-8 4-4 5-6 13-10 16.5-15.5 31.5-4.5 4.5-20 11.5-11.5 8-2 6 .5 12-10.5 14-1.5 14-5 8.5-4 3-4 2-8 .5-12-3-20-9.5-6-1-4 1-8 5.5-7 9-3 10 0 11.5 597 0 .5-1z" fill="#dfff20"/>
<path d="M728.5 241.5l-4-2.5-3.5-.5-12 4-6 1-14-.5-12-1.5-53.5-22.5-11-6-13.5-9.5-36-8.5-16 .5-24 5-22 13.5-14 6-10 1-14-2.5-6 2-2.5 2.5-1.5 3.5-.5 14.5-3.5 12-8 13.5-8 9-4 2.5-14 5-18 9-8 1.5-10 .5-22-2-6 3-6 6-6 8-4 7-5 13-4.5 16-16.5 24.5-4 3-8 3.5-4 5-5.5 12-10.5 17.5-14.5 30.5-5.5 5-20.5 13-7 8-2 6 0 10-9.5 12-4.5 16-6.5 10-4 3-4 1.5-8 .5-10-2.5-20-8.5-6-1-5 1-9 6.5-5.5 7.5-2.5 10 .5 9.5 594.5 0 .5-1z" fill="#efff10"/>
<path d="M727 244.5l-6-2.5-2 0-10 3.5-6 1-16-1.5-12-2.5-63.5-25.5-16-10-26.5-8.5-8-1.5-16 .5-22 4.5-6 3-14 9.5-14 7-10 1-14-1.5-6 1.5-3.5 4.5-2 16-4.5 14-8 12.5-8 8-18 7.5-14 7.5-6 1.5-18 1.5-10 0-8-1.5-4 .5-6 4-6 6.5-4.5 6-3.5 7-4 11.5-3 13.5-2 4-17 24-4 2.5-6 2-5 5.5-6.5 14-10.5 16.5-14 30-4 4-17.5 11.5-4.5 4-6 12-1 10-9.5 12-5 16-6.5 10-8 5.5-8 1-10-2-22-8-6-.5-4 1-8 5-5 6-2.5 10 0 9.5 592.5 0 .5-1 0-303.5z" fill="#ffff00"/>
<path d="M545 199l-13 2-11 3.5-18 11.5-14 7-10 1.5-14-1-4.5 1.5-3 4-3.5 20-5 12-10 14-8 6-14 5-14 7.5-6 2-10 1.5-16 .5-14-1.5-4 1.5-4 3-8 8.5-4 7-5 15-2.5 12-2 4-18.5 25.5-4 2.5-6 2-4 3.5-7 14.5-11 17.5-14 30-4 4-19.5 14.5-5 12-3 12-9.5 10-4 14-7.5 12-7.5 6-8 2-10-1.5-22-7-6-.5-6 1.5-8 5-3 4.5-2 8-1 9.5 591.5 0 0-263.5-1.5-8 1.5-3.5 0-26-3.5 2.5-3-3-3-1.5-14 4-30-5-36.5-15.5-29.5-8.5-15.5-9.5-22.5-9-12-3z" fill="#ffef00"/>
<path d="M541 201l-11 2-9 3-16 10.5-14 7.5-10 2-14-.5-4.5 1.5-3 4-4.5 20-4 10-9.5 14-8.5 7-14 5-14 7-8 3-10 1.5-18 1-12-1-4 1-4 3-6 6-4.5 6.5-5.5 16-2 12-1.5 4-10 12-9.5 14-3 2.5-8 2.5-4 3.5-6 13.5-12 18.5-13.5 29.5-4.5 5-16.5 13-8.5 24-11 12-3.5 12-7.5 12-7 6.5-4 1.5-6 1.5-6-1-26-6.5-10 1.5-6 3-4 4-2 5.5-1.5 11.5 589 0 0-258-3.5 .5-1.5 6-2.5 4.5-4 2.5-6 1-4-1.5-6-8.5-2-8 1.5-8 6.5-10.5 4-2.5 4-1 6 1.5 1-5.5-1.5-8-1.5-2-2 0-8 2.5-4 0-32-7.5-35-15-32.5-8-24.5-14-12-5.5-14-2.5z" fill="#ffdf00"/>
<path d="M728.5 332l-8-3-5.5-4-12-14-4-6-7-14 0-4 1-10-.5-4-4.5-16-3.5-4-15.5-5-23.5-11-10.5-4-28.5-6-29.5-17-12-5-10-2-10-.5-10 1-12 3.5-18 11.5-14 7.5-8 1.5-16 .5-4 2-2 3.5-5 19.5-4 10-8.5 12-8.5 8-16 6-14 7-6 2-10 2-20 1.5-12-1-4 1.5-6 4-5.5 7-2.5 4.5-4 13.5-2 12-1.5 4-10 12-10.5 15-4 3-8 2.5-4 3.5-5.5 12-12.5 20-12.5 28-15.5 16-3.5 10-5.5 8-3 8-3 4-9 8-5 14-7 11-8 7-10 3-30-6-10 1.5-5.5 3.5-3.5 4-2 6 0 6 1 1.5 583 0 .5-1z" fill="#ffcf00"/>
<path d="M728.5 335.5l-9.5-4-5.5-4.5-14.5-18-11-18-2.5-18-3-10-3.5-4.5-16-6.5-20-11-8-3.5-30-8-28-17-12-5.5-10-2-10-1-10 1-10 3-6 3-14 9.5-12 6.5-8 2-16 1-4 1.5-2.5 3.5-5.5 20-4 10-8.5 12-9.5 8-36 15-30 3.5-12-.5-4 1-4.5 3-4 4-3.5 6-5 16-1 10-1 4-23 29-4 3-8 1.5-4 4-5.5 12.5-12.5 19-12 28-11.5 13-3.5 12-7.5 10-3.5 8-12 11.5-5 12.5-7.5 12-7.5 6.5-10 3.5-6 0-22-3.5-10 1-4.5 2.5-5 6-1 4 1 5.5 578.5 0 .5-1z" fill="#ffbf00"/>
<path d="M728.5 337l-7.5-2.5-6-4-14-15.5-16-24-6.5-20-3.5-6-16.5-8-23.5-14-32-11.5-26-16.5-10-5-10-2.5-12-1.5-9 1-9 2.5-6 3-14 9-12 6.5-8 2.5-16 1.5-4 1.5-2.5 3.5-6.5 20-4.5 10-7 10-6 6-5.5 4-34 15-32 3.5-12-.5-8 4-6 8-4.5 16-1 12-2 4-7.5 8-8.5 12-8.5 9.5-4 2.5-8 1-3 3-5.5 12-13.5 20.5-11.5 27.5-9 12-4 14-7.5 10-4 8-12 11-8.5 17-5.5 8-8 6.5-10 3.5-4 0-20-2.5-10 1-4 2-3 3.5-3 5-1 4.5 576 0 .5-1z" fill="#ffaf00"/>
<path d="M728.5 338.5l-12-5.5-11.5-11-25-33-4-6-3-8-4-4.5-16-9-18-12.5-32-15-34.5-21-9.5-3-12-1.5-9.5 .5-7.5 2-9 4-14 9-12 6.5-8 2-14 1.5-4 1.5-3 3.5-5.5 18-7 14-6 8-12.5 10.5-32 14.5-34 3.5-12 .5-6.5 3-3.5 4-2 4-4 14-1 12-1.5 4-9.5 10-8 12-10 10-4 2-8 1-2 2-5.5 11-12.5 18-4 7.5-8 22-8.5 14.5-2.5 12-7.5 10-5.5 10-12 11-9 17-5 7-8 7-10 3-6 1-16-2-10 1.5-4.5 2.5-8 9.5 573.5 0 .5-1z" fill="#ff9f00"/>
<path d="M728.5 340.5l-11.5-5.5-7-6-9-10-14-19.5-15-14.5-6.5-8-15.5-10-17-12.5-40-22.5-16-11-11.5-6-6.5-2-14-1.5-8 1-8 2.5-30 17-12 3.5-12 1.5-4 1.5-2 2.5-9.5 24-5.5 10-11 11-8 6-30 14.5-46 4.5-5.5 2-2.5 2-2 3-5.5 17-.5 12-1.5 4-8.5 8-10 13.5-12 11-4 2-8 1.5-2 2.5-5.5 9.5-12.5 17.5-4 7.5-7 21-5.5 12-1.5 10-1.5 4-8.5 11.5-6 10-12 11-14 23.5-8 7.5-10 3.5-8 1-14-.5-8 1.5-4 2-7 6.5 568 0 .5-1z" fill="#ff8f00"/>
<path d="M728.5 343.5l-11.5-7-6-5-9.5-10.5-16.5-21.5-26-21.5-59-35-13.5-6-19.5-12.5-8-2.5-8-1.5-8 .5-6 1.5-23 12.5-19 6.5-16 8.5-12 10-10.5 19-19.5 15.5-30 16-36 5.5-16 12.5-5 6.5-2.5 14-2.5 6-10 8.5-12 13.5-12 9.5-12 4.5-20 27-6 12.5-6.5 22.5-1.5 6 .5 8-1 4-9.5 10.5-8 11.5-12 12.5-14.5 23.5-5.5 5.5-4 2.5-23 6-4.5 2-.5 2 4 1.5 541 0 .5-1z" fill="#ff8000"/>
<path d="M728.5 346.5l-19.5-15.5-26.5-32-23.5-16.5-24-12-21-7.5-15-8.5-22-7-14-8-8-1.5-6 .5-18.5 8.5-33.5 9-6 2.5-18 11.5-11 13-15 8.5-20 15.5-10 6.5-12 4.5-24 4.5-10 4-12 10.5-2 4-3 12-5.5 8-11.5 6-13 14-15 9-8 3.5-4 2.5-16 21-6 10.5-6 23.5 .5 16-1 4-11.5 12-9 12-9.5 10-13 22-4.5 6-6 5.5-12.5 4.5-2.5 2 5 3.5 523 0 .5-1z" fill="#ff7000"/>
<path d="M727 349l-18-16.5-20-24.5-8-8.5-8-5.5-24-12-28-8-26-9-36-9.5-66 17-22 14-22 9.5-9.5 7-9.5 10-11 7.5-12 5-18 4-14 5.5-9.5 8-5.5 14-8 10-3 1.5-10 2.5-6 5-6 7.5-10 4-8 5.5-12 6-16 20-6 11-4 19 2 18-2 6-14 13.5-15.5 18.5-13 22-5.5 8-6 6-8 4-.5 3.5 519.5 0 .5-1 0-173-.5-1.5 .5-3.5 0-20.5z" fill="#ff6000"/>
<path d="M728.5 352.5l-1.5 1-2-1-4-5.5-14-14.5-20-25-8-8-10-5.5-24-9-20-1.5-16-4-16 0-20-4.5-6 .5-3 3.5-3 10-5 24-2 16-3 5-6 2-6-.5-4-1.5-4-4-2.5-5-.5-6 7-34-.5-4-1.5-1.5-8 0-26 6.5-8 2.5-14 7.5-8 1.5-10 .5-6 2-8.5 5-9.5 12.5-10 7.5-12 6-22 7-15 7-4 4-7.5 14-9.5 10-16 3-4 3.5-6 8-12 3.5-8 5-10 4.5-3 2.5-8.5 12-6.5 7-4 7-3.5 20 3 14-.5 6-1.5 4-5.5 6-14 12.5-9 11.5-16.5 28-6.5 8.5-4 4-6 3-1.5 2 516.5 0 .5-1 0-169-4-1.5-2-4 2.5-6 2-2.5 1.5 0z" fill="#ff5000"/>
<path d="M728.5 383l-5.5-2-4-6 0-4 4-12-2-8-32-39-8-8.5-6-5-8-3.5-18-5.5-10-1-22 2-18 3-20 1.5-4 1.5-4 4.5-1.5 4-.5 4 2.5 6 0 4-7 22-2 2-3.5 1.5-14 2.5-10 .5-8-.5-5.5-2-5-4-6-6-3-4-5.5-12-1-10-4-4-6-.5-20 4-20 .5-4 3-7.5 11-8.5 7-16 8-20 7.5-14 7.5-14 18-8 7.5-6 2.5-12 1.5-10 10-13 2.5-18.5 10-2 2-5.5 8-11 11.5-2.5 4.5-1.5 6.5-.5 9.5 4.5 14-.5 6-1.5 4-6 8-20 18.5-6.5 9.5-14 26-9.5 13.5-3 2 508 0 .5-1z" fill="#ff4000"/>
<path d="M633 293.5l-18 4.5-4 1.5-2 2.5-8 19 .5 4 3.5 6 .5 4-2.5 5.5-4 3.5-18 4-20 1.5-20 3.5-14 .5-14-1-4-1.5-6-4-30-23-4-1.5-6 0-14 7-12 7.5-10 3.5-29 12.5-14 12-14 16-17 12.5-22 8-10 2-4 1.5-2 2-5 10-3 3-6 4.5-12 6.5-6 6-.5 4 .5 4 6 12 .5 6-11 16-9.5 9-10.5 9-5 6-4 8-8.5 22-6 10-.5 2 1 3.5 492.5 0 .5-159-9-6.5-3.5-6 0-6 3.5-12-.5-6-2.5-4-27.5-35-12-12-10-5-18-4-8-.5z" fill="#ff3000"/>
<path d="M631 297.5l-10.5 3.5-5.5 3.5-2 2-5 12.5 .5 4 2.5 6-.5 8-2 4-4 4-7.5 3.5-20 4-18 .5-10 3-8 1-30 .5-18-5.5-20-14.5-4-2-4-.5-6 2-18 10-16 2.5-17 7.5-33 32.5-20 12.5-30 10-11 11-21 14-1 2-.5 4 4.5 12 1 6 0 4-16 18-19.5 18-3 4-2.5 6-3.5 14-6.5 18 .5 2 5 3.5 476.5 0 .5-156-4.5-1.5-5.5-4-4-4-2-4-.5-4 4-18 0-4-10.5-16-14.5-18.5-8-9-8-7-8-3.5-10-2.5-14-1z" fill="#ff2000"/>
<path d="M637 299l-10 3.5-8.5 6.5-3.5 8 1.5 12-2 12-7.5 7-8 4-22 4-16 0-12 3.5-8 1-34 2-20-3-6-2.5-10-7-6-1.5-4 .5-16 7.5-20 2.5-6 2-26 26-12 10-22 13-28 9.5-28 19.5-1.5 2-.5 4 3.5 18-.5 4-9 7.5-31 32.5-2 4-1.5 14-3.5 12-1.5 11.5 242 0 4.5-3.5-7-4-2-2 .5-2 9.5-15 3-13 4-8 4-6 5-4.5 9-5.5 7-1.5 20 5.5 6.5 4 9.5 16 14.5 20 1 4-.5 6-1.5 2-7.5 4 5 3.5 146 0 .5-153.5-3.5-.5-6-2.5-6-5-3-4-1.5-6 2-16 2-6-.5-4-10-16-19-23.5-10-8-10-3.5-14-1.5z" fill="#ff1000"/>
<path d="M728.5 397.5l-5.5 0-8-4-5.5-4.5-3.5-4-2-6 2.5-10 0-10 2-6-.5-4-8-14-17-21-10-8.5-12-4-8-.5-18 2-7 4-6 8-1.5 22-1.5 6.5-7 5.5-13 6.5-20 3.5-18 1-20 4-38 4.5-22-1-6-2-6-3-4-1-14 4-18 3.5-10 5-6 4.5-18 17-18.5 13.5-6 8-7.5 6.5-4 1-10 .5-14 4.5-27 19.5-2 4 .5 12-1 4-9.5 8-18 18-13 15.5-4 30.5-.5 2-5.5 5.5 235 0-1-2-12-3-3-2.5 1.5-4 13.5-19 4-11 8-13.5 6-8.5 8.5-6 7.5-3 10-1 6 1 8 4.5 10 3 5.5 3.5 3.5 4 6 12 10 14 10.5 12 5.5 12-1.5 2-1.5 .5-12 3-1 2 142 0 .5-1 0-69.5-3.5-1-2.5 10-2 2-3.5 1-6-.5-6-2.5-7-6-3-6-.5-6 .5-6 3-6 5-4.5 6-1.5 6 2 6 6 4 11.5 3.5-1.5z" fill="#ff0000"/>
<path d="M728.5 405l-9.5-4.5-10-6.5-5.5-5-2.5-4-1.5-6 2.5-10-1-10 3-8-.5-4-3-8-11.5-16-8-9-10-7.5-12-3-10 1-8 4.5-5 6-1 4 0 16-2 4-12.5 10-19.5 9-14 3.5-26 2.5-60 9.5-20 1-16-1-8 1-12 3-16 8.5-14 9.5-16 13.5-3.5 6-2.5 8-5 10-3 9-2 2.5-26-5-10 1-6 3-20 18-8 11.5-27 28-8.5 12-1.5 8-1.5 27.5 187 0 2.5-7.5 21-29.5 20.5-32.5 7.5-6 6-3 8-1.5 16-1.5 4 .5 6 2.5 16 9 4 4 8 14 11 16 24 28 4 7.5 108 0 .5-1 0-55-11.5 2-8-1.5-6-2.5-6-4.5-4-5-2-4-1-6 1-6 2-6 4.5-6 5.5-4 6-2.5 4-.5 10 3.5 5.5 0z" fill="#ef0000"/>
<path d="M728.5 421.5l-2.5 3.5 .5 2 2 2.5zM653 307l-5 4-3.5 8 .5 14-2 10-3.5 4-4.5 3-10 2-24 9-12 3-30 3.5-74 12-30 2.5-8 2.5-10 5.5-22.5 17-8 8-4 12-6.5 10-3 14.5-4 4.5-6 3-8 0-6-1-12-4.5-8 0-6 3.5-13.5 12-14 18-8.5 9-16 23.5-2.5 9.5-1.5 12 1 4 5 3.5 147.5 0 8.5-3.5 6.5-6 25.5-34 16-26 5.5-6 10.5-6.5 6-2.5 8-2 20-1.5 6 1 6 2.5 15 11 6 8 6.5 12 11.5 18 17.5 20 16.5 15.5 96 0 .5-48.5-5.5-1.5-14-2-12-4.5-9.5-9-2-4-1-6 .5-4 3.5-8 7.5-10 17-12.5 6-1 1.5-2.5 2-10-1.5-13.5-1.5-2.5-6-6-13-10-3-4-3-6-3-12 0-10 1.5-4 6-7 1-5-2-6-6.5-10-8.5-10.5-12-10-10-2z" fill="#df0000"/>
<path d="M728.5 503l-19.5-2.5-12-4-6-3.5-5-4-4-4-2-4-2-8 3-8 12.5-14 13-12 8.5-12 1-8-1-4-5-8-16.5-14-5-10-1.5-12 1-12 1.5-4 6-6 1-4-.5-4-2.5-6-8.5-12.5-12-10.5-6-2.5-8 0-5.5 1.5-3 4-2 6 .5 12-2 12-4 6-6 4.5-10 .5-10 2-16 5.5-14 4-24 2.5-48 7.5-38 8.5-24 3-9 4-11 10-15 12-5 6-4.5 10-8 6-2.5 6 .5 8-1 4-2.5 4.5-6 6.5-6 1.5-32-1.5-6 3.5-20 26.5-10 11-13 22-4.5 14 1.5 5.5 138 0 2-4 12-12 18-23 26-37.5 4-3.5 14-8 8-3 6-1 10-.5 10-1.5 6 .5 10 4 12 9.5 9.5 12.5 16.5 29 16 19 16 16 2 3.5 93 0 .5-1z" fill="#cf0000"/>
<path d="M728.5 505l-9.5 .5-12-1.5-14.5-5-13.5-9-4-5-2-4-1-8 4-10 27-24 4.5-8 3.5-10-.5-4-3.5-6-18-14.5-3.5-5.5-3-8 2-26 2-4 6.5-8 0-4-2-6-4-7.5-6-6.5-10-8-6-1-8 1.5-3.5 3.5-1 4 0 14-2.5 14-3 5.5-8 7-4 .5-8-1.5-10 .5-28 9-26 2.5-52 8.5-32 10-22 4-8 3.5-11 10.5-13 11-4.5 5-4 8-12.5 8-1 4 .5 8-.5 4-10 16-4 2-18 .5-8 1.5-14 9-16 20.5-9.5 10.5-12 18-7 13.5 129.5 0-2-5.5 .5-2 15.5-16 15-19 26-36.5 5.5-4.5 18.5-10 12-4.5 12 0 14-2 12 3 6 3.5 10 10 6 8 5.5 8 13.5 26 16.5 20 15.5 16 1 2 .5 3.5 90.5 0 .5-1z" fill="#bf0000"/>
<path d="M728.5 508l-7.5 1.5-14-1.5-20-6.5-8-4-5.5-4.5-4.5-6-2.5-6-.5-8 5-12.5 3.5-3.5 14.5-8 8.5-8 6.5-10 2.5-6 0-4-1-4-2.5-4-19.5-14-6-12-1-6 2.5-12 1.5-12 2.5-6 6-6.5 .5-5.5-2.5-7.5-4-5.5-12-9.5-5-1.5-7 2-2 2-1.5 22-2 14-4 6-8.5 6.5-4 .5-12-2.5-10-.5-26 8-20 2-58 9-14 5-16 7-16 4.5-14 8-17.5 14.5-9 12-13 12-4 14-9 16-3.5 5-14 4.5-12 10-18 9.5-16 17-18 22-7 3.5 118.5 0-5-1.5-2.5-2 1-4 8.5-10 14.5-14 20-24.5 18-25.5 8-6.5 28-15 4-1 12 .5 12-2.5 6 0 14 4 6 3.5 8 9 10.5 14 16.5 32 15 19 18.5 19 1 2-1.5 3.5 87 0 .5-1z" fill="#af0000"/>
<path d="M665 329.5l-2 3-1.5 4.5-1 8 .5 5.5 1.5 2.5 2.5 1.5 8 1 2-1.5 8.5-11 1-6-1.5-4-4.5-4-7.5-1zM595 378l-22 1-46 8-14 1-10 3-7.5 4-8.5 9.5-12 5.5-26 17-6.5 6-23.5 30-14.5 26-13.5 17-10 7-20 9.5-8 4.5-9.5 8-3 4-.5 2 2.5 2 6 2 .5 3.5 36 0-.5-1.5 1-2 13.5-2.5 6-2 4-3.5 10.5-12 19.5-17.5 15.5-18.5 16.5-23 8-9.5 6-4 17-7.5 15-9 10-4 6-1 10 1.5 30 6 5.5 2.5 11.5 10 14 20 9 18 2 3 4 1.5 4-1.5 18-11 2.5-2 1.5-4-.5-4-3.5-6-10-12-1-8-3-10 2-4 4-1 6 1.5 12 7.5 9.5 10 4.5 2 4 .5 10-1.5 8-3.5 6-5.5 8-11.5 1.5-4.5 0-4-1.5-4-4-4-4-2.5-10-3.5-12-7-14-3-2.5-2-5.5-7.5-4-3-14-2.5-10-3.5-14-3-4 0zM653 502l-19 11-1.5 2-.5 2 5.5 8 9.5 9 4 2.5 6 1.5 16 2 2.5 3 1 5.5 51 0 1-.5 0-19.5-5-7.5-4.5-3.5-8-1-8 4-4 1-6-2-29-12.5-7-5.5z" fill="#9f0000"/>
<path d="M561 389.5l-32 6.5-16-1.5-6 1.5-4 3-1.5 4 0 10 1.5 6 2 1.5 2-.5 20-5.5 6-.5 28 8.5 28-.5 18 8.5 4 1 1-2.5 0-6 1-4 2-2 9.5-4 3-2 1-2-4.5-4-7-3.5-8-3.5-12-3-6-4.5-4-2-10-1.5zM663 411l-10 2 0 2 13.5 12 1 4-.5 8 1 2 3 2.5 6 1 6-1 4-2.5 6-7 4-7 .5-6-1.5-4-5-3-10-.5-10-2.5z" fill="#8f0000"/>
<path d="M686.5 419l-5.5 2-2 4-.5 8 .5 2 2 1.5 2-.5 4-3 5-8 0-2-1-3z" fill="#800000"/>
</g>
<g clip-path="url(#m)" fill="none" stroke="#000" stroke-width="1" stroke-linejoin="round" shape-rendering="crispEdges">
<path d="M508,101 520,99 523,103 521,118 518,125 510,123 506,116 506,108Z"/>
<path d="M537,92 528,93 523,90 518,89 510,90 504,93 501,100 500,112 502,120 508,128 518,132 524,126 526,116 532,108 537,106"/>
<path d="M305,258 305,262 300,272 296.5,290 295.5,298"/>
<path d="M267,386.5 267,398 266.5,404"/>
<path d="M496,86 494,100 495,114 498,124 504,132 510,136 518,138 524,134 528,126 537,121 547,120"/>
<path d="M451,95 450,106 452,116 456,126 463,134 464,139 461,144 457,146"/>
<path d="M386.5,210 392,206 394,200 396,197.5"/>
<path d="M351,223 349,229 344,234 339,237 332,241 326,244 320,248 316,249 310,260 302,268 300,280 299,290 295.5,299 303.5,308 301,315 300.5,324 296,332 295,334.6"/>
<path d="M285.5,342 290,341.5 293,345 295.5,350 290,351.5 285,354 282,360 278,370 275.6,380"/>
<path d="M267.5,405 267,412 263,413 259,416 257,420 246,420 241,417 238,412.3"/>
<path d="M490,86 489,100 488,108 491,120 496,128 500,135 506,140 512,142 518,141 524,138 529,135 538,134 546,139 552,139 557,136"/>
<path d="M460,77 458,86 461,96 459,106 462,116 469,126 476,134 478,142 474,148 466,151 457,154"/>
<path d="M378,219 390,219 400,216 401,204 400,189"/>
<path d="M362,223 358,231 350,237 344,242 334,248 324,258 318,268 314.5,280 311.5,290 318,297 315,307 318.5,314 317,323 306,329 303.5,334 306,341 306,348 300,354 293,358 289,363 285,370 281,380 276,388 275,392 273,396 270,404 268.5,412 266,416 262,420 257,425 249,428 249.5,434 247,437 241,437 236,433 233,427 230,424 227.5,420 226,412.3"/>
<path d="M216,421 215,425 207.5,431 195,437.5 189,445 187.5,452.5 177.5,454 170,449 164.5,446.5"/>
<path d="M174,472.5 171,487 174,497.5 180,496 177.5,483 175,473Z"/>
<path d="M183.5,500 182.5,503 184,506.5 185.5,503Z"/>
<path d="M626,162.6 632.5,169 640,172.5 647.5,174 657.5,171.5 667.5,166 671,162.6"/>
<path d="M476.5,86 477,90 469,97 467,103 470,110 476,118 480,126 482,136 484,144 487,154 486,162 478,166 468,164 460,169 457,170.5"/>
<path d="M486,86 486,95 485,108 488,118 492,128 498,138 502,148 504,154 510,156 520,153 528,151 532,154 535,161 542,163 550,159 558,153 568,152 580,154.5 590,159 600,164 610,167.5 617.5,172.5 625,182.5 630,192.5 639,197 647.5,196 662.5,187.5 680,179 695,174 705,175 710,182.5 712.5,192.5 720,197.5 727,199"/>
<path d="M406,189 407,204 410,216 411,223 418,228 419,234 416,240 405,236 396,238.6 388,230 378,226.4 374,228 364,234 358,240 348,246 338,252 333,258 338,266 337.5,280 336.5,284 330,297 327.5,305 322.5,313 320,323 317,336 315.5,340 308,350 304,354 296,360 292,365 289,370 284,380 278.5,392 272,404 270,412 268,417 266,420 264,422 259,427 256.5,430 255.5,436 251,439 244,442 234.5,444.5 226,439.5 222.5,435 215,438 209,444.5 206,452 201.5,457.5 193,464 188,471.7 184,480 186,490 188,498 190,506.7 190,513 186,514 180,510 171.7,501.7 165,493 162.5,483 165,473 166,462.5 161.7,461 153,459.5 148,463.5"/>
<path d="M132.5,472.5 134,485 130,495 127.5,500 117.5,507 115,510 110,520 107.5,530 106,547"/>
<path d="M727,207.5 712.5,206 700,204 687.5,201 675,206 667.5,212.5 671,222 662.5,221 650,216 640,212.5 630,204 622.5,190 612.5,177.5 600,171 590,167.5 575,165 560,167.5 545,174 539,176 532.5,176 525,172.5 517.5,167.5 507.5,169 500,175 490,189 482.5,185 472.5,182.5 457.5,185 450,186 438,185 422,188 415,196 416,206 420,220 426,228 430,238 426,248 422,256 417,258.6 414,259 406,254 402,247 388,243 376,246 366,253 362,258 364,264 358,268 350,274 345,280 340,287 335.5,297 332,306 327,314 323,325 320,336 319,340 312,350 305,359 296,363 293,368 290,375 287,380 281.5,392 274.5,404 271.7,412 268.5,420 265,424 261,428 259,435 255,440 247,444 243,448 229,452 225.5,444.5 219.5,444.5 213.5,450.5 210.5,457 205,464 197,470 192.5,477.5 189.5,483 189.5,490 191,500 195,508 199,514 195,517.5 185,517.5 176.7,514 167.5,508 160,501.7 157.5,493 154,489 143,486.7 137.5,487.5 134,497.5 125,507.5 117.5,517.5 115,530 114,547"/>
<path d="M727,214.5 717.5,215.5 710,220 707.5,229 700,234 690,235 675,231 662.5,227.5 650,224 637.5,219 627.5,210 620,197.5 610,185 600,180 586,179.5 575,179.5 562.5,180 550,182.5 540,185 527.5,187.5 517.5,191 510,200 500,204 487.5,210 480,209 470,204 456,201 446,200 437.5,201 434,209 431,212.5 435,222.5 441,232.5 444,240 442,246 435,251 432,257.5 430,264.4 423.8,267.5 415,269.4 407,271 400,265 396,260.6 387.5,262 386,266 388,273 383.8,277 376,280.6 366,279.4 356,280 350,284 345.5,289 341,297 337,304 332,313 327,323 324,331 322,340 315,352 311,358 305,366 296,367 293,374 289,380 284.5,392 277,404 273.4,412 270.5,420 266,426 263,430 261,437 257,442 250,446 245,450 232,453 225,452.5 221.7,453 215,458 211.7,466.7 208,475 203,479 195,481 193,485 193,495 196,503 200,510 202.5,516 196.7,520 186.7,520 178,516.7 170,511.7 163,506.7 160,502.5 152.5,500 146,502.5 137.5,510 127.5,520 122.5,532.5 121,547"/>
<path d="M727,232.5 717.5,236 707.5,240 695,241 680,241 668,236 654,230 640,224 626,217 614,209 606,201 599.6,196.6 588,197.5 580,196 564,192 552,193 534,197 520,200 506,210 490,218 478,220 464,216 457.5,215.5 452.5,219 450,225 451,235 450,244 448.8,250 445,257.5 441,263.8 435,271 427.5,277 417.5,280 408.8,284.4 400,290.6 390,292.5 376,292.5 364,291 356.6,289 353,291 347,295 344,300 340,306 336,309 334,314 331,322 327.5,330 325,340 324,344 318,352 313,360 311,366 305,372 297,373 294,378 290,386 287.5,392 280,404 275,412 272.5,420 268,428 265,432 263,439 260,443 253,447 248,450 240,455 236,457 225,462.5 221.7,462.5 220,468 223,475 226.7,479 226.7,485 221.7,490 217.5,495 216.7,503 213,511.7 208,520 201.7,524 195,525 185,523 175,519 166.7,514 161.7,511.7 154,510 147.5,511 140,517.5 132.5,527.5 130,540 130,547"/>
<path d="M204.5,493 209,496 204.5,499 200.5,496Z"/>
<path d="M727,336 722,335 714,330 706,320 698,308 694,298 690,290 694,282 701,270 707.5,257.5 699,253 687.5,250 677.5,246 674,247 660,241 646,234 634,230 620,228 608,228 600,224 590,218 580,211 568,205 558,202.5 547.5,201 534,202 520,206 506,217 490,226 480,227 466,226.4 460,230 459,240 456,250 455,255 452,262.5 446,271 440,279.4 433.8,283.8 423.8,286 413.8,290 405,295 396,298 387.5,299.4 376,300 369,301 365,301.5 359,298.5 354,299.5 347,304 342,307.5 343,310 338,314.5 335.5,322 334,328 332.5,334 332.5,340 332,345 326,353 320,358 315,365 313,370 307,377 297,378 294,382 290.5,392 283,404 277,412 274.5,420 270,430 267,435 265.5,441 263,445 258,448 255,450 248,455 240.5,459 248,462 246.5,470 238,476.7 235,487.5 226.7,491.7 221.7,496.7 221.7,505 218,513 213,520 206.7,526.7 201.7,530 193,531.7 183,529 173,526 163,524 153,526 143,531 141.7,538 141,547"/>
<path d="M719.5,250 721.5,253 720.5,258 718,256Z"/>
<path d="M727,304 720,307 727,313"/>
<path d="M727,338 718,335 710,329 702,321 694,310 686,300 678,293 670,287 666,282 660,276.5 648,270 640,262.5 630,255 615,246 600,236 590,230 580,222.5 570,216 560,212.5 547.5,211 539,211 530,214 520,219 510,225 500,231 487.5,235 475,236 469,237.5 466,245 465,250 461,260 457.5,268.8 452.5,277.5 445,283.8 438.8,290 432.5,293.8 425,297 417.5,300 410,305 402,307.5 397,307.5 380,309 370,310 364,310 357,310.5 351,312.5 347,317.5 348.5,320 347,329 344,332 342.5,336 343,340 344,350 340,356 336,355 331,359 329,365 329,368 323,374 318,376 315.5,379 311,386 306,387.5 300,384 296,383 294.5,386 294,392 293,397 290,401 286,406 282,412 277,416 274,423 272,430 270,437 268,444 266,450 261.5,461 266,470 257,476 251,485 248,494 240,498 235,503 231.7,506.7 226.7,515 223,523 218,530 210,536 200,538 194,540 188,537.5 178,537.5 170,540 165,547"/>
<path d="M727,386 722,382 718,374 724,358 720,350 714,344 708,336 704,330 696,320 688,310 678,300 670,296 658,294 647,290 638,290 629,292 610,295 590,297 577.5,300 570,307.5 580,314 590,320 596,328 603,334 600,342 590,343 580,346 562.5,347.5 547.5,350 537,351 527.5,351 512.5,349 505,341 502.5,330 495,316 487.5,307.5 470,311 452.5,312.5 447.5,309 442.5,322.5 432.5,331 415,340 400,345 380,355 370,370 355,385 345,390 337,382 335,390 328,397 320,396 317,393 310,399 304,401 296,402 294,406 292,410 293,414 300,417 301.5,419 298,422 292,422.5 287,417.5 284,419.5 279,424 275,425.5 274,428 275,435 275,442 274,450 277.5,452.5 285,461 282.5,467.5 275,477 267.5,485 252.5,495 245,509 240,520 235,528 231,535 226.7,540 222.5,547"/>
<path d="M727,403 720,400 712,396 704,390 701,385 698,378 694,368 695,358 702,354 708,350 702,340 694,330 688,322 680,313 672,307 665,304 660,301.6 648,304 638,305 632,307 627,316 640,320 642,328 641,339 638,343 624,348 610,354 600,360 580,362.5 562.5,364.5 540,368 517.5,371 500,374.5 484,375 475,375 462.5,374 450,376 432.5,385 415,396 400,407.5 394,418 395,428 393,440 388,450 384,451 372,444 360,440 354,439 346,440 340,444 334,451 324,459 314,468 306,478 298,486 290,495 284,498.5 281,506 273.5,512 275,525 274,547"/>
<path d="M459,547 475,525 487.5,507.5 495,495 505,477.5 517.5,469 532.5,467.5 547.5,466 556,469 559,476 570,477.5 577.5,487.5 580,496 590,507.5 592.5,514 600,521 611,534 624,547"/>
<path d="M727,451 721,452 718,449 711,444 704,448 698,450 692,460 690,470 692,480 698,488 708,493 718,495 727,494"/>
<path d="M326,547 332.5,537.5 347.5,525 360,517.5 375,511 390,500 400,485 410,465 417.5,452 421,450 437.5,427.5 450,417.5 465,411 475,402.5 482.5,400 500,390 510,386 525,384 542.5,380.5 562.5,377.5 580,375 590,376 600,370 606,368 616,366 624,368 628,375 632,376 644,373 650,378 652,372 655,364 657,354 658,342 659,330 665,325 667,320 669,314 674,319 680,322 686,328 689,336 689,343 680,349 677,358 678,366 674,376 672,380 670,386 660,390 659,393 670,398 678,403 690,408 700,415 705,420 704,428 699,436 694,444 688,449 678,452 669,455 660,451 652,445 643,443 639,437 633,434 628,435 628,440 633,443 639,445 643,452 647,455 654,460 658,470 662,482 665,490 667,500 675,500 690,506 705,510 727,512.5"/>
<path d="M409,547 415,540 425,527.5 437.5,517.5 450,502.5 462.5,487.5 472.5,472.5 482.5,460 505,450 518,441 528.8,434.5 537.5,441 547,437 557.5,438.8 572.5,442.5 580,450 586,460 594,470 600,481 604,488 607.5,500 625,522.5 637.5,535 650,547"/>
</g>
<ellipse cx="344.6" cy="325.4" rx="2.6" ry="2.2" fill="#fff" stroke="#000" stroke-width="1.4"/>
<path d="M316,417.5v3.5" stroke="#000" stroke-width="1"/>
<g stroke="#868686" stroke-width="1" stroke-dasharray="2 4.6" fill="none" shape-rendering="crispEdges">
<path d="M153.5,50.9V547"/>
<path d="M235.5,50.9V547"/>
<path d="M318.5,50.9V547"/>
<path d="M400.5,50.9V547"/>
<path d="M482.5,50.9V547"/>
<path d="M564.5,50.9V547"/>
<path d="M647.5,50.9V547"/>
<path d="M72.3,72.5H725"/>
<path d="M72.3,168.5H725"/>
<path d="M72.3,264.5H725"/>
<path d="M72.3,360.5H725"/>
<path d="M72.3,455.5H725"/>
</g>
<g clip-path="url(#f)" fill="none" stroke="#000" stroke-linejoin="round" stroke-linecap="round">
<path d="M98,547.5 96,535 92.5,522.5 96,517.5 94,505 92.5,497.5 95,489 102.5,486 105,479 110,470 111,463 112,457 114,447 117,438 126,433 131,427 138,420 145,423 144,429 147,426 151,422 146,419 139,415 132,422 125,427 120,428 122,419 124,411 132,409 142,406 144,399 141,390 135,384 132.4,377 135,368 142,363 148,359 156,360 166,362 171,367 163,373 160,381 163,388 170,392 178,393 176,400 166,404 149,409 153,416 160,413 168,408 180,402 200,398 225,396 247.5,394 256,385 259,372.5 261,357.5 262.5,345 262.5,337.5 267,332.5 262.5,329 257,325 256,320 270,317.5 274,310 277.5,300 277.5,290 275,275 267.5,274 262.5,270 259,275 252.5,267.5 270,250 285,240 305,227.5 325,216 341,203 354,194 364,188 370,180 375,172.5 385,164 400,150 407.5,137.5 425,117.5 429,108 426,103 440,99 446,92 447,76 441,71 446,65 457.5,61 470,57.5 484,52.5" stroke-width="2.95"/>
<path d="M142,436 136,443 128,453 120,459 113,463 122,454 130,445 142,436" stroke-width="2.55"/>
<path d="M270,250 255,255 252.5,245 252.5,232.5 256,220 259,205 266,207.5 266,220 271,232.5 274,242.5 287.5,235 292.5,230 287.5,225 290,217.5 296,215 302,218 306,208 310,212 320,198 327,204 333,203 336,193 341,202" stroke-width="2.95"/>
<path d="M336,102.5 342.5,96 350,94 362.5,105 367.5,101 375,110 385,122.5 390,130 397.5,140 398,148 395,153 390,154 386,150 381,140 375,130 362.5,124 355,122.5 345,115 336,102.5" stroke-width="2.95"/>
<path d="M568,58 574,64 580,66 590,63 598,61 620,66 645,71 665,72.5 687.5,72.5 695,77.5 705,80 712.5,75 717.5,65 726,57" stroke-width="2.95"/>
<path d="M580,66 592.5,80 600,74 625,77.5 650,82.5 654,90 657.5,95 645,100 632.5,102.5 620,102.5 610,107.5 613,112 620,114 627.5,114 635,111 647.5,115 657.5,120 667.5,127.5 685,132.5 690,140 700,147.5 715,151 726,154" stroke-width="2.95"/>
<path d="M565.3,102.7 567,108 570.7,112 580,118.7 598.7,125.3 620,130.7 646.7,134.7 669.3,137.3" stroke-width="2.65"/>
<path d="M568.8,99.2 570.5,104 573.3,108 582.7,116 601.3,121.3 622.7,126.7 646.7,132.5 669.3,137.3" stroke-width="2.65"/>
<path d="M667.5,53.5 672.5,60 680,56 686,53" stroke-width="2.95"/>
<path d="M687.5,53.5 697.5,61 712.5,60 726,55" stroke-width="2.95"/>
</g>
<g font-size="11.7" text-anchor="middle">
<rect x="468" y="84.2" width="18" height="11.5" fill="#fff"/>
<rect x="513.5" y="83.2" width="9" height="11.5" fill="#fff"/>
<rect x="534.5" y="170.2" width="9" height="11.5" fill="#fff"/>
<rect x="579.2" y="173.7" width="18" height="11.5" fill="#fff"/>
<rect x="630" y="191.2" width="18" height="11.5" fill="#fff"/>
<rect x="594.5" y="191.2" width="9" height="11.5" fill="#fff"/>
<rect x="538.5" y="195.2" width="18" height="11.5" fill="#fff"/>
<rect x="534.5" y="205.2" width="9" height="11.5" fill="#fff"/>
<rect x="666.5" y="216.2" width="9" height="11.5" fill="#fff"/>
<rect x="690" y="247.2" width="18" height="11.5" fill="#fff"/>
<rect x="437" y="194.2" width="18" height="11.5" fill="#fff"/>
<rect x="453" y="209.8" width="9" height="11.5" fill="#fff"/>
<rect x="387" y="232.8" width="18" height="11.5" fill="#fff"/>
<rect x="412.5" y="252.9" width="9" height="11.5" fill="#fff"/>
<rect x="367" y="274.9" width="18" height="11.5" fill="#fff"/>
<rect x="352.1" y="283.2" width="9" height="11.5" fill="#fff"/>
<rect x="366.2" y="294.8" width="18" height="11.5" fill="#fff"/>
<rect x="392.5" y="302.2" width="9" height="11.5" fill="#fff"/>
<rect x="629" y="284.2" width="18" height="11.5" fill="#fff"/>
<rect x="655.5" y="295.9" width="9" height="11.5" fill="#fff"/>
<rect x="660" y="308.2" width="18" height="11.5" fill="#fff"/>
<rect x="528" y="345.2" width="18" height="11.5" fill="#fff"/>
<rect x="483.5" y="369.2" width="9" height="11.5" fill="#fff"/>
<rect x="301.5" y="335.2" width="9" height="11.5" fill="#fff"/>
<rect x="301.5" y="381.8" width="9" height="11.5" fill="#fff"/>
<rect x="336" y="384.2" width="18" height="11.5" fill="#fff"/>
<rect x="538" y="431.2" width="18" height="11.5" fill="#fff"/>
<rect x="543" y="460.2" width="9" height="11.5" fill="#fff"/>
<rect x="660" y="450.8" width="18" height="11.5" fill="#fff"/>
<rect x="706.5" y="438.2" width="9" height="11.5" fill="#fff"/>
<rect x="225.5" y="438.2" width="18" height="11.5" fill="#fff"/>
<rect x="223" y="447.8" width="18" height="11.5" fill="#fff"/>
<rect x="231.5" y="451.8" width="9" height="11.5" fill="#fff"/>
<rect x="144" y="453.8" width="18" height="11.5" fill="#fff"/>
<rect x="139" y="480.8" width="9" height="11.5" fill="#fff"/>
<rect x="143.5" y="494.2" width="18" height="11.5" fill="#fff"/>
<rect x="149.5" y="504.2" width="9" height="11.5" fill="#fff"/>
<rect x="184" y="526.2" width="18" height="11.5" fill="#fff"/>
<rect x="189.5" y="534.8" width="9" height="11.5" fill="#fff"/>
<text x="477" y="94.1">3.5</text>
<text x="518" y="93.1">2</text>
<text x="539" y="180.1">4</text>
<text x="588.2" y="183.5">4.5</text>
<text x="639" y="201.1">3.5</text>
<text x="599" y="201.1">5</text>
<text x="547.5" y="205.1">5.5</text>
<text x="539" y="215.1">6</text>
<text x="671" y="226.1">4</text>
<text x="699" y="257.1">5.5</text>
<text x="446" y="204.1">4.5</text>
<text x="457.5" y="219.6">5</text>
<text x="396" y="242.7">3.5</text>
<text x="417" y="262.7">4</text>
<text x="376" y="284.7">4.5</text>
<text x="356.6" y="293.1">5</text>
<text x="375.2" y="304.6">5.5</text>
<text x="397" y="312.1">6</text>
<text x="638" y="294.1">6.5</text>
<text x="660" y="305.7">7</text>
<text x="669" y="318.1">7.5</text>
<text x="537" y="355.1">6.5</text>
<text x="488" y="379.1">7</text>
<text x="306" y="345.1">3</text>
<text x="306" y="391.6">6</text>
<text x="345" y="394.1">6.5</text>
<text x="547" y="441.1">7.5</text>
<text x="547.5" y="470.1">7</text>
<text x="669" y="460.6">7.5</text>
<text x="711" y="448.1">7</text>
<text x="234.5" y="448.1">3.5</text>
<text x="232" y="457.6">4.5</text>
<text x="236" y="461.6">5</text>
<text x="153" y="463.6">3.5</text>
<text x="143.5" y="490.6">4</text>
<text x="152.5" y="504.1">4.5</text>
<text x="154" y="514.1">5</text>
<text x="193" y="536.1">5.5</text>
<text x="194" y="544.6">6</text>
</g>
<rect x="73" y="53" width="653" height="495" fill="none" stroke="#000" stroke-width="2" shape-rendering="crispEdges"/>
<g stroke="#000" stroke-width="1.2">
<path d="M153.5,548v4.5"/>
<path d="M235.5,548v4.5"/>
<path d="M318.5,548v4.5"/>
<path d="M400.5,548v4.5"/>
<path d="M482.5,548v4.5"/>
<path d="M564.5,548v4.5"/>
<path d="M647.5,548v4.5"/>
<path d="M73,72.5h-3.6"/>
<path d="M73,168.5h-3.6"/>
<path d="M73,264.5h-3.6"/>
<path d="M73,360.5h-3.6"/>
<path d="M73,455.5h-3.6"/>
</g>
<g font-size="12.5" fill="#000">
<text x="153.5" y="563.3" text-anchor="middle">29</text>
<text x="235.5" y="563.3" text-anchor="middle">29.5</text>
<text x="318.5" y="563.3" text-anchor="middle">30</text>
<text x="400.5" y="563.3" text-anchor="middle">30.5</text>
<text x="482.5" y="563.3" text-anchor="middle">31</text>
<text x="564.5" y="563.3" text-anchor="middle">31.5</text>
<text x="647.5" y="563.3" text-anchor="middle">32</text>
<text x="66" y="76.8" text-anchor="end">46.5</text>
<text x="66" y="172.8" text-anchor="end">46</text>
<text x="66" y="268.8" text-anchor="end">45.5</text>
<text x="66" y="364.8" text-anchor="end">45</text>
<text x="66" y="459.8" text-anchor="end">44.5</text>
</g>
<g fill="#000" stroke="#fff" stroke-width="0.25">
<text x="54.5" y="41.3" font-size="25.5" textLength="140" lengthAdjust="spacingAndGlyphs">Temperature</text>
<text x="210.5" y="41.3" font-size="25.5" textLength="39" lengthAdjust="spacingAndGlyphs">(C).</text>
<text x="265.5" y="41.3" font-size="25.5" textLength="49" lengthAdjust="spacingAndGlyphs">Date</text>
<text x="329.5" y="41.3" font-size="25.5" textLength="137" lengthAdjust="spacingAndGlyphs">2010.03.14.</text>
<text x="482" y="41.3" font-size="25.5" textLength="49.5" lengthAdjust="spacingAndGlyphs">Time</text>
<text x="547" y="41.3" font-size="25.5" textLength="139.5" lengthAdjust="spacingAndGlyphs">00(h):00(m)</text>
<text x="701.5" y="41.3" font-size="25.5" textLength="43.5" lengthAdjust="spacingAndGlyphs">GMT</text>
</g><g fill="#000">
<text x="323" y="588.6" font-size="19.3" textLength="86.5" lengthAdjust="spacingAndGlyphs">Longitude</text>
<text x="422" y="588.6" font-size="19.3" textLength="53.5" lengthAdjust="spacingAndGlyphs">(East)</text>
<g transform="translate(31.2,0) rotate(-90)">
<text x="-373" y="0" font-size="19.3" textLength="73.5" lengthAdjust="spacingAndGlyphs">Latitude</text>
<text x="-291.5" y="0" font-size="19.3" textLength="62" lengthAdjust="spacingAndGlyphs">(North)</text>
</g></g>
<g font-size="19.5" fill="#000" stroke="#fff" stroke-width="0.3"><text x="110.5" y="107.2">Z</text><text x="138.5" y="107.2" textLength="15.5" lengthAdjust="spacingAndGlyphs">=</text><text x="170" y="107.2" textLength="34" lengthAdjust="spacing">2.5</text><text x="219.5" y="107.2" textLength="18" lengthAdjust="spacingAndGlyphs">m</text></g>
<g shape-rendering="crispEdges">
<rect x="734" y="533.48" width="15" height="7.82" fill="#00008f"/>
<rect x="734" y="525.97" width="15" height="7.82" fill="#00009f"/>
<rect x="734" y="518.45" width="15" height="7.82" fill="#0000af"/>
<rect x="734" y="510.94" width="15" height="7.82" fill="#0000bf"/>
<rect x="734" y="503.42" width="15" height="7.82" fill="#0000cf"/>
<rect x="734" y="495.91" width="15" height="7.82" fill="#0000df"/>
<rect x="734" y="488.39" width="15" height="7.82" fill="#0000ef"/>
<rect x="734" y="480.88" width="15" height="7.82" fill="#0000ff"/>
<rect x="734" y="473.36" width="15" height="7.82" fill="#0010ff"/>
<rect x="734" y="465.84" width="15" height="7.82" fill="#0020ff"/>
<rect x="734" y="458.33" width="15" height="7.82" fill="#0030ff"/>
<rect x="734" y="450.81" width="15" height="7.82" fill="#0040ff"/>
<rect x="734" y="443.3" width="15" height="7.82" fill="#0050ff"/>
<rect x="734" y="435.78" width="15" height="7.82" fill="#0060ff"/>
<rect x="734" y="428.27" width="15" height="7.82" fill="#0070ff"/>
<rect x="734" y="420.75" width="15" height="7.82" fill="#0080ff"/>
<rect x="734" y="413.23" width="15" height="7.82" fill="#008fff"/>
<rect x="734" y="405.72" width="15" height="7.82" fill="#009fff"/>
<rect x="734" y="398.2" width="15" height="7.82" fill="#00afff"/>
<rect x="734" y="390.69" width="15" height="7.82" fill="#00bfff"/>
<rect x="734" y="383.17" width="15" height="7.82" fill="#00cfff"/>
<rect x="734" y="375.66" width="15" height="7.82" fill="#00dfff"/>
<rect x="734" y="368.14" width="15" height="7.82" fill="#00efff"/>
<rect x="734" y="360.62" width="15" height="7.82" fill="#00ffff"/>
<rect x="734" y="353.11" width="15" height="7.82" fill="#10ffef"/>
<rect x="734" y="345.59" width="15" height="7.82" fill="#20ffdf"/>
<rect x="734" y="338.08" width="15" height="7.82" fill="#30ffcf"/>
<rect x="734" y="330.56" width="15" height="7.82" fill="#40ffbf"/>
<rect x="734" y="323.05" width="15" height="7.82" fill="#50ffaf"/>
<rect x="734" y="315.53" width="15" height="7.82" fill="#60ff9f"/>
<rect x="734" y="308.02" width="15" height="7.82" fill="#70ff8f"/>
<rect x="734" y="300.5" width="15" height="7.82" fill="#80ff80"/>
<rect x="734" y="292.98" width="15" height="7.82" fill="#8fff70"/>
<rect x="734" y="285.47" width="15" height="7.82" fill="#9fff60"/>
<rect x="734" y="277.95" width="15" height="7.82" fill="#afff50"/>
<rect x="734" y="270.44" width="15" height="7.82" fill="#bfff40"/>
<rect x="734" y="262.92" width="15" height="7.82" fill="#cfff30"/>
<rect x="734" y="255.41" width="15" height="7.82" fill="#dfff20"/>
<rect x="734" y="247.89" width="15" height="7.82" fill="#efff10"/>
<rect x="734" y="240.38" width="15" height="7.82" fill="#ffff00"/>
<rect x="734" y="232.86" width="15" height="7.82" fill="#ffef00"/>
<rect x="734" y="225.34" width="15" height="7.82" fill="#ffdf00"/>
<rect x="734" y="217.83" width="15" height="7.82" fill="#ffcf00"/>
<rect x="734" y="210.31" width="15" height="7.82" fill="#ffbf00"/>
<rect x="734" y="202.8" width="15" height="7.82" fill="#ffaf00"/>
<rect x="734" y="195.28" width="15" height="7.82" fill="#ff9f00"/>
<rect x="734" y="187.77" width="15" height="7.82" fill="#ff8f00"/>
<rect x="734" y="180.25" width="15" height="7.82" fill="#ff8000"/>
<rect x="734" y="172.73" width="15" height="7.82" fill="#ff7000"/>
<rect x="734" y="165.22" width="15" height="7.82" fill="#ff6000"/>
<rect x="734" y="157.7" width="15" height="7.82" fill="#ff5000"/>
<rect x="734" y="150.19" width="15" height="7.82" fill="#ff4000"/>
<rect x="734" y="142.67" width="15" height="7.82" fill="#ff3000"/>
<rect x="734" y="135.16" width="15" height="7.82" fill="#ff2000"/>
<rect x="734" y="127.64" width="15" height="7.82" fill="#ff1000"/>
<rect x="734" y="120.12" width="15" height="7.82" fill="#ff0000"/>
<rect x="734" y="112.61" width="15" height="7.82" fill="#ef0000"/>
<rect x="734" y="105.09" width="15" height="7.82" fill="#df0000"/>
<rect x="734" y="97.58" width="15" height="7.82" fill="#cf0000"/>
<rect x="734" y="90.06" width="15" height="7.82" fill="#bf0000"/>
<rect x="734" y="82.55" width="15" height="7.82" fill="#af0000"/>
<rect x="734" y="75.03" width="15" height="7.82" fill="#9f0000"/>
<rect x="734" y="67.52" width="15" height="7.82" fill="#8f0000"/>
<rect x="734" y="60" width="15" height="7.82" fill="#800000"/>
</g>
<g font-size="14" fill="#000">
<text x="761" y="72.5" textLength="29.5" lengthAdjust="spacing">7.84</text>
<text x="761" y="185" textLength="29.5" lengthAdjust="spacing">6.23</text>
<text x="761" y="302.5" textLength="29.5" lengthAdjust="spacing">4.53</text>
<text x="761" y="422" textLength="29.5" lengthAdjust="spacing">2.83</text>
<text x="761" y="539.5" textLength="29.5" lengthAdjust="spacing">1.13</text>
</g>
</svg>
</body></html>
